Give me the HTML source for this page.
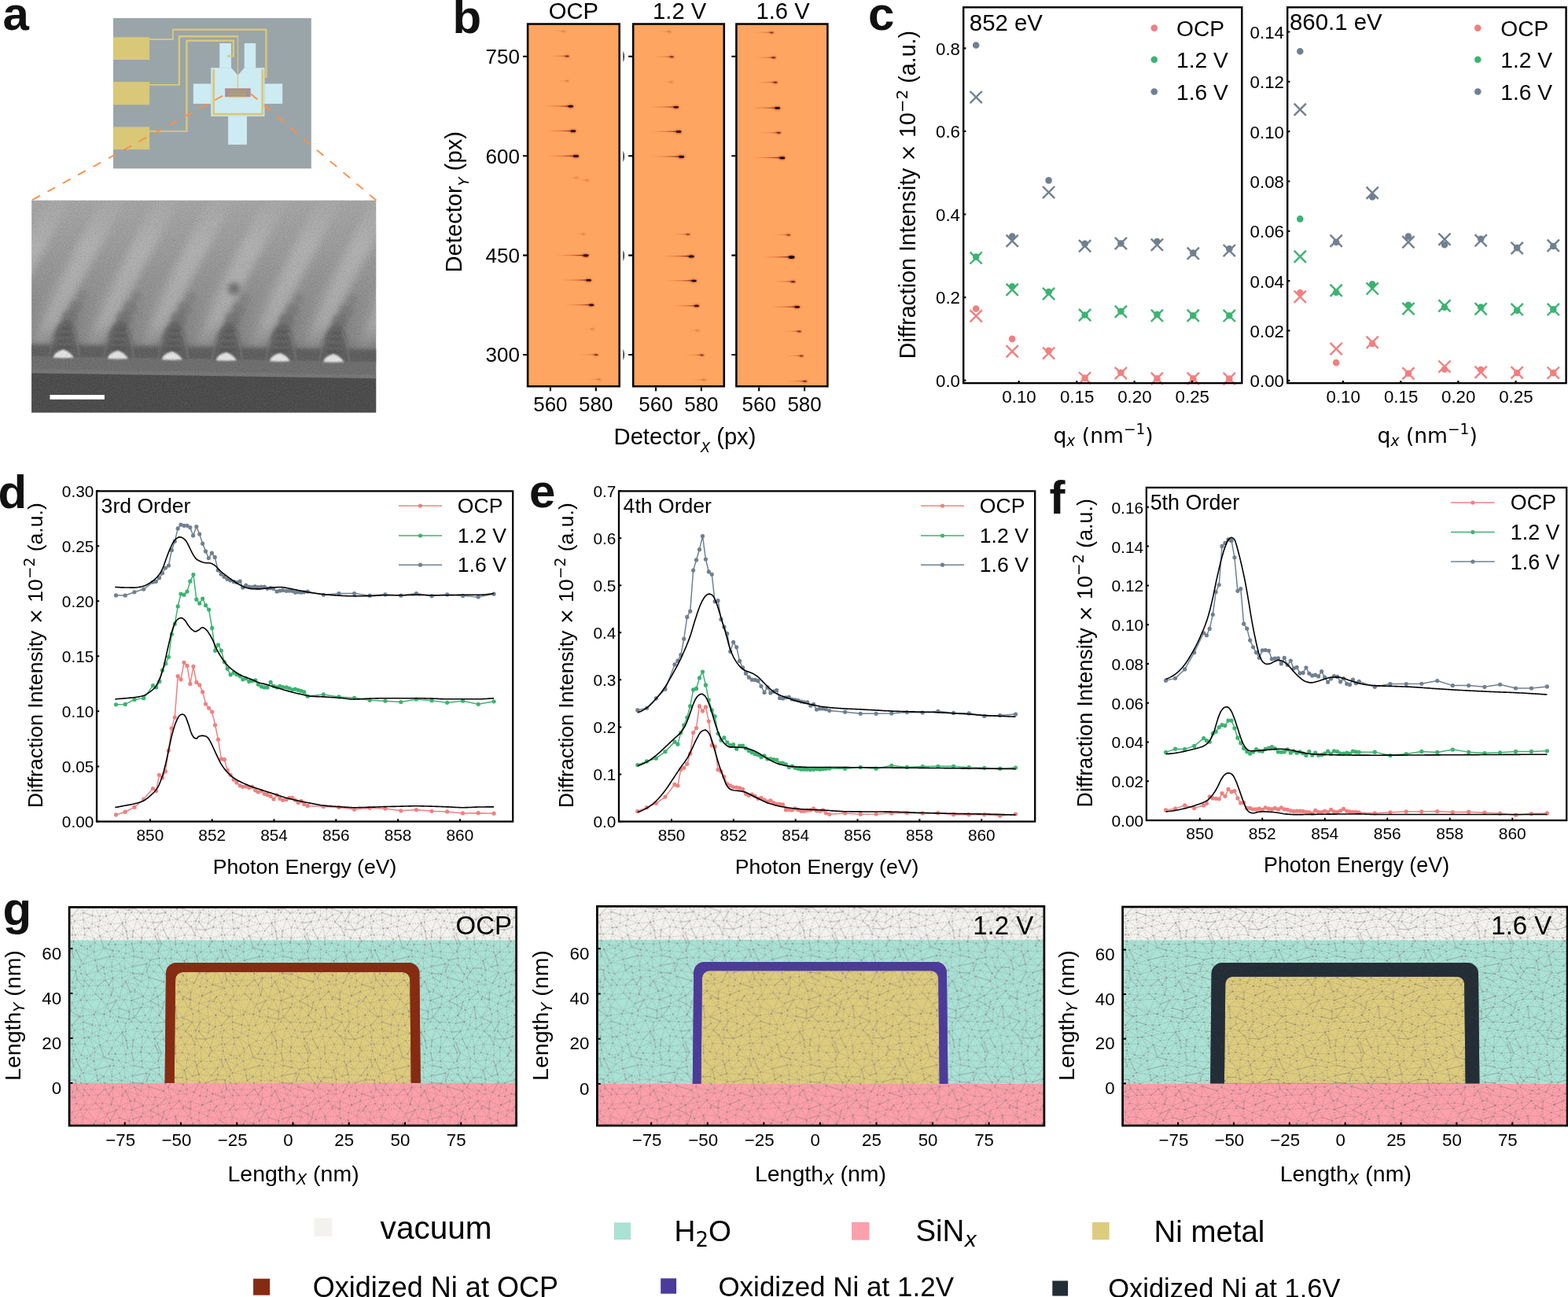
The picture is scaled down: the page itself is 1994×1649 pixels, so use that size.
<!DOCTYPE html>
<html lang="en"><head><meta charset="utf-8"><title>Figure</title>
<style>
html,body{margin:0;padding:0;background:#fff}
body{width:1994px;height:1649px;overflow:hidden}
svg{display:block;font-family:'Liberation Sans',sans-serif}
</style></head><body>
<svg width="1994" height="1649" viewBox="0 0 1994 1649">
<rect width="1994" height="1649" fill="#fff"/>
<g>
<path d="M1241.2,392.5h0M1287.2,430.9h0M1333.6,445.9h0M1379.6,480.6h0M1425.4,473.8h0M1471.4,481.2h0M1517.3,481.2h0M1563.3,481.5h0" stroke="#F08080" stroke-width="8.6" stroke-linecap="round" fill="none"/>
<path d="M1233.6,394.1l15.2,15.2M1233.6,409.3l15.2,-15.2M1279.6,439.1l15.2,15.2M1279.6,454.3l15.2,-15.2M1326,441.5l15.2,15.2M1326,456.7l15.2,-15.2M1372,473l15.2,15.2M1372,488.2l15.2,-15.2M1417.8,466.9l15.2,15.2M1417.8,482.1l15.2,-15.2M1463.8,473.6l15.2,15.2M1463.8,488.8l15.2,-15.2M1509.7,473.6l15.2,15.2M1509.7,488.8l15.2,-15.2M1555.7,473.9l15.2,15.2M1555.7,489.1l15.2,-15.2" stroke="#F08080" stroke-width="2.4" fill="none"/>
<path d="M1241.2,326.6h0M1287.2,364.3h0M1333.6,371.1h0M1379.6,400.5h0M1425.4,395.8h0M1471.4,399.9h0M1517.3,401.2h0M1563.3,401.2h0" stroke="#3CB371" stroke-width="8.6" stroke-linecap="round" fill="none"/>
<path d="M1233.6,320.3l15.2,15.2M1233.6,335.5l15.2,-15.2M1279.6,360.7l15.2,15.2M1279.6,375.9l15.2,-15.2M1326,365.9l15.2,15.2M1326,381.1l15.2,-15.2M1372,392.9l15.2,15.2M1372,408.1l15.2,-15.2M1417.8,388.6l15.2,15.2M1417.8,403.8l15.2,-15.2M1463.8,393.6l15.2,15.2M1463.8,408.8l15.2,-15.2M1509.7,393.6l15.2,15.2M1509.7,408.8l15.2,-15.2M1555.7,393.8l15.2,15.2M1555.7,409l15.2,-15.2" stroke="#3CB371" stroke-width="2.4" fill="none"/>
<path d="M1241.2,57.5h0M1287.2,300.6h0M1333.6,229.4h0M1379.6,309.9h0M1425.4,309.5h0M1471.4,307.1h0M1517.3,321.6h0M1563.3,316.4h0" stroke="#708090" stroke-width="8.6" stroke-linecap="round" fill="none"/>
<path d="M1233.6,116l15.2,15.2M1233.6,131.2l15.2,-15.2M1279.6,298.6l15.2,15.2M1279.6,313.8l15.2,-15.2M1326,237l15.2,15.2M1326,252.2l15.2,-15.2M1372,305.1l15.2,15.2M1372,320.3l15.2,-15.2M1417.8,301.9l15.2,15.2M1417.8,317.1l15.2,-15.2M1463.8,303.6l15.2,15.2M1463.8,318.8l15.2,-15.2M1509.7,314.7l15.2,15.2M1509.7,329.9l15.2,-15.2M1555.7,311l15.2,15.2M1555.7,326.2l15.2,-15.2" stroke="#708090" stroke-width="2.4" fill="none"/>
<rect x="1225.2" y="9.3" width="354.1" height="477.8" fill="none" stroke="#000" stroke-width="2.4"/>
<path d="M1295.7,487.1v-3.2M1369.3,487.1v-3.2M1442.6,487.1v-3.2M1516,487.1v-3.2M1225.2,483.6h3.2M1225.2,378.05h3.2M1225.2,272.5h3.2M1225.2,166.95h3.2M1225.2,61.4h3.2" stroke="#000" stroke-width="2.2" fill="none"/>
<text x="1296" y="512.3" font-size="22.3" text-anchor="middle">0.10</text>
<text x="1369.6" y="512.3" font-size="22.3" text-anchor="middle">0.15</text>
<text x="1442.9" y="512.3" font-size="22.3" text-anchor="middle">0.20</text>
<text x="1516.3" y="512.3" font-size="22.3" text-anchor="middle">0.25</text>
<text x="1221" y="491.98" font-size="22.3" text-anchor="end">0.0</text>
<text x="1221" y="386.43" font-size="22.3" text-anchor="end">0.2</text>
<text x="1221" y="280.88" font-size="22.3" text-anchor="end">0.4</text>
<text x="1221" y="175.33" font-size="22.3" text-anchor="end">0.6</text>
<text x="1221" y="69.78" font-size="22.3" text-anchor="end">0.8</text>
<text x="1232.8" y="38.8" font-size="29.4">852 eV</text>
<circle cx="1467.8" cy="35.6" r="4.3" fill="#F08080"/>
<text x="1496" y="45.6" font-size="28.2">OCP</text>
<circle cx="1467.8" cy="75.7" r="4.3" fill="#3CB371"/>
<text x="1496" y="85.7" font-size="28.2">1.2 V</text>
<circle cx="1467.8" cy="116.5" r="4.3" fill="#708090"/>
<text x="1496" y="126.5" font-size="28.2">1.6 V</text>
<text transform="translate(1164.4,247.6) rotate(-90)" font-size="28.6" text-anchor="middle">Diffraction Intensity <tspan font-family="'DejaVu Sans',sans-serif" font-size="27.17">×</tspan> 10<tspan font-family="'DejaVu Sans',sans-serif" font-size="20.02" dy="-10.87">−2</tspan><tspan dy="10.87"> (a.u.)</tspan></text>
<text x="1403.05" y="562.5" font-size="26.6" text-anchor="middle" font-family="'DejaVu Sans',sans-serif">q<tspan font-size="18.6" font-style="italic" dy="4.3">x</tspan><tspan dy="-4.3"> (nm</tspan><tspan font-size="18.6" dy="-10.4">−1</tspan><tspan dy="10.4">)</tspan></text>
</g>
<g>
<path d="M1653.3,372.1h0M1699.2,461.1h0M1745.2,437h0M1791,474.7h0M1837,469.5h0M1883.2,470h0M1929.2,474.1h0M1975.3,474.1h0" stroke="#F08080" stroke-width="8.6" stroke-linecap="round" fill="none"/>
<path d="M1645.7,369.7l15.2,15.2M1645.7,384.9l15.2,-15.2M1691.6,435.9l15.2,15.2M1691.6,451.1l15.2,-15.2M1737.6,427.6l15.2,15.2M1737.6,442.8l15.2,-15.2M1783.4,467.1l15.2,15.2M1783.4,482.3l15.2,-15.2M1829.4,458.5l15.2,15.2M1829.4,473.7l15.2,-15.2M1875.6,465.6l15.2,15.2M1875.6,480.8l15.2,-15.2M1921.6,466.2l15.2,15.2M1921.6,481.4l15.2,-15.2M1967.7,466.5l15.2,15.2M1967.7,481.7l15.2,-15.2" stroke="#F08080" stroke-width="2.4" fill="none"/>
<path d="M1653.3,278.4h0M1699.2,371.7h0M1745.2,361.3h0M1791,387.8h0M1837,390.6h0M1883.2,390.6h0M1929.2,394.7h0M1975.3,393.4h0" stroke="#3CB371" stroke-width="8.6" stroke-linecap="round" fill="none"/>
<path d="M1645.7,318.6l15.2,15.2M1645.7,333.8l15.2,-15.2M1691.6,361.7l15.2,15.2M1691.6,376.9l15.2,-15.2M1737.6,359.3l15.2,15.2M1737.6,374.5l15.2,-15.2M1783.4,384.9l15.2,15.2M1783.4,400.1l15.2,-15.2M1829.4,381.2l15.2,15.2M1829.4,396.4l15.2,-15.2M1875.6,385.2l15.2,15.2M1875.6,400.4l15.2,-15.2M1921.6,385.8l15.2,15.2M1921.6,401l15.2,-15.2M1967.7,385.8l15.2,15.2M1967.7,401l15.2,-15.2" stroke="#3CB371" stroke-width="2.4" fill="none"/>
<path d="M1653.3,65.3h0M1699.2,308h0M1745.2,250.5h0M1791,300.6h0M1837,311.2h0M1883.2,303.8h0M1929.2,315.1h0M1975.3,313h0" stroke="#708090" stroke-width="8.6" stroke-linecap="round" fill="none"/>
<path d="M1645.7,131.6l15.2,15.2M1645.7,146.8l15.2,-15.2M1691.6,298.6l15.2,15.2M1691.6,313.8l15.2,-15.2M1737.6,237.7l15.2,15.2M1737.6,252.9l15.2,-15.2M1783.4,300.1l15.2,15.2M1783.4,315.3l15.2,-15.2M1829.4,296.7l15.2,15.2M1829.4,311.9l15.2,-15.2M1875.6,298.2l15.2,15.2M1875.6,313.4l15.2,-15.2M1921.6,307.9l15.2,15.2M1921.6,323.1l15.2,-15.2M1967.7,304.7l15.2,15.2M1967.7,319.9l15.2,-15.2" stroke="#708090" stroke-width="2.4" fill="none"/>
<rect x="1637.2" y="9.3" width="354.4" height="477.8" fill="none" stroke="#000" stroke-width="2.4"/>
<path d="M1707.9,487.1v-3.2M1781.3,487.1v-3.2M1854.4,487.1v-3.2M1927.6,487.1v-3.2M1637.2,483.8h3.2M1637.2,420.47h3.2M1637.2,357.14h3.2M1637.2,293.81h3.2M1637.2,230.48h3.2M1637.2,167.15h3.2M1637.2,103.82h3.2M1637.2,40.49h3.2" stroke="#000" stroke-width="2.2" fill="none"/>
<text x="1708.2" y="512.3" font-size="22.3" text-anchor="middle">0.10</text>
<text x="1781.6" y="512.3" font-size="22.3" text-anchor="middle">0.15</text>
<text x="1854.7" y="512.3" font-size="22.3" text-anchor="middle">0.20</text>
<text x="1927.9" y="512.3" font-size="22.3" text-anchor="middle">0.25</text>
<text x="1633" y="492.18" font-size="22.3" text-anchor="end">0.00</text>
<text x="1633" y="428.85" font-size="22.3" text-anchor="end">0.02</text>
<text x="1633" y="365.52" font-size="22.3" text-anchor="end">0.04</text>
<text x="1633" y="302.19" font-size="22.3" text-anchor="end">0.06</text>
<text x="1633" y="238.86" font-size="22.3" text-anchor="end">0.08</text>
<text x="1633" y="175.53" font-size="22.3" text-anchor="end">0.10</text>
<text x="1633" y="112.2" font-size="22.3" text-anchor="end">0.12</text>
<text x="1633" y="48.87" font-size="22.3" text-anchor="end">0.14</text>
<text x="1640" y="38.4" font-size="29.4">860.1 eV</text>
<circle cx="1879.3" cy="35.6" r="4.3" fill="#F08080"/>
<text x="1908.3" y="45.6" font-size="28.2">OCP</text>
<circle cx="1879.3" cy="75.7" r="4.3" fill="#3CB371"/>
<text x="1908.3" y="85.7" font-size="28.2">1.2 V</text>
<circle cx="1879.3" cy="116.5" r="4.3" fill="#708090"/>
<text x="1908.3" y="126.5" font-size="28.2">1.6 V</text>
<text x="1815.2" y="562.5" font-size="26.6" text-anchor="middle" font-family="'DejaVu Sans',sans-serif">q<tspan font-size="18.6" font-style="italic" dy="4.3">x</tspan><tspan dy="-4.3"> (nm</tspan><tspan font-size="18.6" dy="-10.4">−1</tspan><tspan dy="10.4">)</tspan></text>
</g>
<g>
<polyline points="147.52,1035.97 159.26,1032.21 170.99,1026.19 182.73,1016.11 194.46,1002.57 198.67,1005.58 202.43,985.27 206.5,988.73 210.41,980.75 214.32,954.13 218.23,925.84 222.29,912 226.2,859.65 229.97,863.86 234.03,842.35 237.94,846.41 241.85,869.43 245.91,847.31 249.82,867.47 253.74,870.93 257.65,879.66 261.56,895 265.62,900.27 269.68,905.08 273.59,921.78 277.51,940.13 281.42,964.96 285.33,965.71 289.24,979.25 293.15,985.27 297.21,991.28 300.97,995.05 305.19,998.81 308.8,1000.31 312.71,999.86 316.77,1001.36 320.53,1000.31 324.74,1004.82 328.36,1007.08 332.57,1005.58 336.33,1009.34 340.09,1010.39 344.15,1012.35 348.06,1016.11 352.13,1010.84 355.89,1015.36 359.65,1017.31 364.16,1016.41 367.92,1014.3 371.68,1014.3 375.44,1017.31 379.21,1020.62 382.97,1018.36 386.73,1022.43 391.24,1024.38 411.35,1025.62 430.99,1026.49 450.63,1029.11 470.27,1027.37 489.92,1028.02 509.78,1030.86 529.42,1029.55 549.06,1031.3 568.7,1031.95 588.56,1033.92 608.21,1033.7 628.07,1034.13" fill="none" stroke="#F08080" stroke-width="1.5" stroke-linejoin="round"/><path d="M147.52,1035.97h0M159.26,1032.21h0M170.99,1026.19h0M182.73,1016.11h0M194.46,1002.57h0M198.67,1005.58h0M202.43,985.27h0M206.5,988.73h0M210.41,980.75h0M214.32,954.13h0M218.23,925.84h0M222.29,912h0M226.2,859.65h0M229.97,863.86h0M234.03,842.35h0M237.94,846.41h0M241.85,869.43h0M245.91,847.31h0M249.82,867.47h0M253.74,870.93h0M257.65,879.66h0M261.56,895h0M265.62,900.27h0M269.68,905.08h0M273.59,921.78h0M277.51,940.13h0M281.42,964.96h0M285.33,965.71h0M289.24,979.25h0M293.15,985.27h0M297.21,991.28h0M300.97,995.05h0M305.19,998.81h0M308.8,1000.31h0M312.71,999.86h0M316.77,1001.36h0M320.53,1000.31h0M324.74,1004.82h0M328.36,1007.08h0M332.57,1005.58h0M336.33,1009.34h0M340.09,1010.39h0M344.15,1012.35h0M348.06,1016.11h0M352.13,1010.84h0M355.89,1015.36h0M359.65,1017.31h0M364.16,1016.41h0M367.92,1014.3h0M371.68,1014.3h0M375.44,1017.31h0M379.21,1020.62h0M382.97,1018.36h0M386.73,1022.43h0M391.24,1024.38h0M411.35,1025.62h0M430.99,1026.49h0M450.63,1029.11h0M470.27,1027.37h0M489.92,1028.02h0M509.78,1030.86h0M529.42,1029.55h0M549.06,1031.3h0M568.7,1031.95h0M588.56,1033.92h0M608.21,1033.7h0M628.07,1034.13h0" stroke="#F08080" stroke-width="5.2" stroke-linecap="round" fill="none"/>
<polyline points="147.52,895.75 159.26,895.45 170.99,889.43 182.73,887.63 194.46,871.68 198.67,873.94 202.89,866.42 206.5,852.13 210.71,843.85 214.47,835.28 218.38,806.24 222.29,793.15 226.2,770.89 229.97,755.09 234.03,756.14 237.94,752.08 241.85,738.99 245.91,730.57 249.82,762.16 253.74,767.13 257.65,761.11 261.56,769.68 265.62,775.1 269.68,798.42 273.59,827.3 277.51,819.78 281.42,827 285.33,841.59 289.24,850.32 293.15,857.84 297.21,855.13 300.97,857.39 305.19,859.65 308.8,863.86 312.71,862.66 316.77,866.42 320.53,865.67 324.74,864.91 328.36,870.18 332.57,872.89 336.33,873.94 340.09,873.94 344.15,867.47 348.06,872.44 352.13,873.94 355.89,872.44 359.65,873.49 364.16,873.94 367.92,874.99 371.68,876.95 375.44,876.2 379.21,877.4 382.97,878.45 386.73,879.96 391.24,885.22 411.35,882.89 430.99,885.95 450.63,887.25 470.27,890.31 489.92,891.18 509.78,892.49 529.42,889 549.06,890.75 568.7,893.37 588.56,891.18 608.21,895.33 628.07,891.84" fill="none" stroke="#3CB371" stroke-width="1.5" stroke-linejoin="round"/><path d="M147.52,895.75h0M159.26,895.45h0M170.99,889.43h0M182.73,887.63h0M194.46,871.68h0M198.67,873.94h0M202.89,866.42h0M206.5,852.13h0M210.71,843.85h0M214.47,835.28h0M218.38,806.24h0M222.29,793.15h0M226.2,770.89h0M229.97,755.09h0M234.03,756.14h0M237.94,752.08h0M241.85,738.99h0M245.91,730.57h0M249.82,762.16h0M253.74,767.13h0M257.65,761.11h0M261.56,769.68h0M265.62,775.1h0M269.68,798.42h0M273.59,827.3h0M277.51,819.78h0M281.42,827h0M285.33,841.59h0M289.24,850.32h0M293.15,857.84h0M297.21,855.13h0M300.97,857.39h0M305.19,859.65h0M308.8,863.86h0M312.71,862.66h0M316.77,866.42h0M320.53,865.67h0M324.74,864.91h0M328.36,870.18h0M332.57,872.89h0M336.33,873.94h0M340.09,873.94h0M344.15,867.47h0M348.06,872.44h0M352.13,873.94h0M355.89,872.44h0M359.65,873.49h0M364.16,873.94h0M367.92,874.99h0M371.68,876.95h0M375.44,876.2h0M379.21,877.4h0M382.97,878.45h0M386.73,879.96h0M391.24,885.22h0M411.35,882.89h0M430.99,885.95h0M450.63,887.25h0M470.27,890.31h0M489.92,891.18h0M509.78,892.49h0M529.42,889h0M549.06,890.75h0M568.7,893.37h0M588.56,891.18h0M608.21,895.33h0M628.07,891.84h0" stroke="#3CB371" stroke-width="5.2" stroke-linecap="round" fill="none"/>
<polyline points="147.52,756.89 159.26,757.05 170.99,752.83 182.73,749.07 194.46,740.05 198.37,739.29 202.43,734.78 206.5,728.76 210.41,721.99 214.47,718.98 218.38,699.43 222.29,688.14 226.2,671.89 229.97,667.08 234.03,668.28 237.94,668.28 241.85,670.54 245.61,680.92 249.82,669.49 253.74,679.12 257.65,691.15 261.56,700.93 265.32,709.51 269.38,703.19 273.29,708.45 277.2,725 281.12,729.97 285.03,733.28 288.94,736.28 292.85,737.79 297.21,739.59 300.97,740.5 305.19,738.99 308.8,747.12 312.71,744.11 316.77,746.06 320.53,746.51 324.29,745.61 328.05,746.51 332.27,746.06 336.33,746.06 340.09,748.32 343.85,747.57 347.61,748.32 352.13,752.08 355.89,751.03 359.65,750.58 364.16,751.33 367.92,751.03 371.68,751.33 375.44,753.13 379.21,752.83 382.97,753.13 386.73,752.83 391.24,752.08 411.35,756.31 430.99,754.56 450.63,754.56 470.27,757.18 489.92,755.87 509.78,757.18 529.42,754.56 549.06,757.84 568.7,755.87 588.56,757.62 608.21,758.93 628.07,755.22" fill="none" stroke="#708090" stroke-width="1.5" stroke-linejoin="round"/><path d="M147.52,756.89h0M159.26,757.05h0M170.99,752.83h0M182.73,749.07h0M194.46,740.05h0M198.37,739.29h0M202.43,734.78h0M206.5,728.76h0M210.41,721.99h0M214.47,718.98h0M218.38,699.43h0M222.29,688.14h0M226.2,671.89h0M229.97,667.08h0M234.03,668.28h0M237.94,668.28h0M241.85,670.54h0M245.61,680.92h0M249.82,669.49h0M253.74,679.12h0M257.65,691.15h0M261.56,700.93h0M265.32,709.51h0M269.38,703.19h0M273.29,708.45h0M277.2,725h0M281.12,729.97h0M285.03,733.28h0M288.94,736.28h0M292.85,737.79h0M297.21,739.59h0M300.97,740.5h0M305.19,738.99h0M308.8,747.12h0M312.71,744.11h0M316.77,746.06h0M320.53,746.51h0M324.29,745.61h0M328.05,746.51h0M332.27,746.06h0M336.33,746.06h0M340.09,748.32h0M343.85,747.57h0M347.61,748.32h0M352.13,752.08h0M355.89,751.03h0M359.65,750.58h0M364.16,751.33h0M367.92,751.03h0M371.68,751.33h0M375.44,753.13h0M379.21,752.83h0M382.97,753.13h0M386.73,752.83h0M391.24,752.08h0M411.35,756.31h0M430.99,754.56h0M450.63,754.56h0M470.27,757.18h0M489.92,755.87h0M509.78,757.18h0M529.42,754.56h0M549.06,757.84h0M568.7,755.87h0M588.56,757.62h0M608.21,758.93h0M628.07,755.22h0" stroke="#708090" stroke-width="5.2" stroke-linecap="round" fill="none"/>
<polyline points="146.32,1026.64 148.32,1026.25 150.32,1025.86 152.32,1025.48 154.32,1025.09 156.32,1024.71 158.32,1024.33 160.32,1023.97 162.32,1023.62 164.32,1023.28 166.32,1022.91 168.32,1022.52 170.32,1022.07 172.32,1021.59 174.32,1021.08 176.32,1020.51 178.32,1019.86 180.32,1019.13 182.32,1018.28 184.32,1017.15 186.32,1015.72 188.32,1014.08 190.32,1012.33 192.32,1010.56 194.32,1008.75 196.32,1006.74 198.32,1004.41 200.32,1001.6 202.32,997.75 204.32,992.8 206.32,987.16 208.32,980.42 210.32,972.57 212.32,963.77 214.32,954.11 216.32,944.9 218.32,935.92 220.32,928.31 222.32,921.81 224.32,916.66 226.32,912.54 228.32,909.64 230.32,908.43 232.32,908.14 234.32,909 236.32,911.66 238.32,917.1 240.32,922.86 242.32,929.48 244.32,934.36 246.32,937.46 248.32,938.72 250.32,938.88 252.32,936.41 254.32,935.68 256.32,935.36 258.32,935.36 260.32,935.68 262.32,936.26 264.32,938.1 266.32,940.81 268.32,944.36 270.32,948.71 272.32,952.98 274.32,957.38 276.32,961.63 278.32,965.87 280.32,969.82 282.32,973.16 284.32,976.07 286.32,978.67 288.32,981 290.32,983.11 292.32,985.02 294.32,986.75 296.32,988.34 298.32,989.77 300.32,991.06 302.32,992.2 304.32,993.25 306.32,994.25 308.32,995.21 310.32,996.13 312.32,997.01 314.32,997.86 316.32,998.68 318.32,999.48 320.32,1000.23 322.32,1000.94 324.32,1001.61 326.32,1002.26 328.32,1002.91 330.32,1003.57 332.32,1004.25 334.32,1004.92 336.32,1005.59 338.32,1006.24 340.32,1006.88 342.32,1007.51 344.32,1008.13 346.32,1008.75 348.32,1009.37 350.32,1009.99 352.32,1010.64 354.32,1011.3 356.32,1011.97 358.32,1012.65 360.32,1013.3 362.32,1013.94 364.32,1014.53 366.32,1015.08 368.32,1015.59 370.32,1016.07 372.32,1016.54 374.32,1016.99 376.32,1017.42 378.32,1017.85 380.32,1018.28 382.32,1018.71 384.32,1019.12 386.32,1019.53 388.32,1019.94 390.32,1020.33 392.32,1020.72 394.32,1021.1 396.32,1021.48 398.32,1021.87 400.32,1022.26 402.32,1022.65 404.32,1023.03 406.32,1023.38 408.32,1023.7 410.32,1023.97 412.32,1024.2 414.32,1024.4 416.32,1024.58 418.32,1024.75 420.32,1024.9 422.32,1025.05 424.32,1025.19 426.32,1025.32 428.32,1025.45 430.32,1025.58 432.32,1025.71 434.32,1025.85 436.32,1026 438.32,1026.15 440.32,1026.29 442.32,1026.42 444.32,1026.54 446.32,1026.63 448.32,1026.69 450.32,1026.71 452.32,1026.71 454.32,1026.69 456.32,1026.66 458.32,1026.61 460.32,1026.56 462.32,1026.51 464.32,1026.45 466.32,1026.39 468.32,1026.33 470.32,1026.28 472.32,1026.22 474.32,1026.15 476.32,1026.09 478.32,1026.01 480.32,1025.94 482.32,1025.87 484.32,1025.8 486.32,1025.73 488.32,1025.67 490.32,1025.61 492.32,1025.56 494.32,1025.51 496.32,1025.47 498.32,1025.42 500.32,1025.38 502.32,1025.34 504.32,1025.3 506.32,1025.26 508.32,1025.22 510.32,1025.17 512.32,1025.12 514.32,1025.07 516.32,1025.01 518.32,1024.95 520.32,1024.89 522.32,1024.84 524.32,1024.8 526.32,1024.77 528.32,1024.75 530.32,1024.75 532.32,1024.77 534.32,1024.79 536.32,1024.83 538.32,1024.88 540.32,1024.93 542.32,1024.99 544.32,1025.05 546.32,1025.11 548.32,1025.17 550.32,1025.22 552.32,1025.28 554.32,1025.34 556.32,1025.4 558.32,1025.47 560.32,1025.53 562.32,1025.6 564.32,1025.68 566.32,1025.75 568.32,1025.83 570.32,1025.91 572.32,1026.01 574.32,1026.12 576.32,1026.24 578.32,1026.35 580.32,1026.46 582.32,1026.56 584.32,1026.64 586.32,1026.69 588.32,1026.71 590.32,1026.7 592.32,1026.66 594.32,1026.6 596.32,1026.52 598.32,1026.43 600.32,1026.34 602.32,1026.25 604.32,1026.17 606.32,1026.1 608.32,1026.06 610.32,1026.02 612.32,1025.99 614.32,1025.96 616.32,1025.93 618.32,1025.91 620.32,1025.88 622.32,1025.86 624.32,1025.85 626.32,1025.84 628.07,1025.84" fill="none" stroke="#000" stroke-width="1.6" stroke-linejoin="round"/>
<polyline points="146.32,888.83 148.32,888.7 150.32,888.55 152.32,888.4 154.32,888.24 156.32,888.08 158.32,887.91 160.32,887.73 162.32,887.55 164.32,887.36 166.32,887.16 168.32,886.94 170.32,886.7 172.32,886.44 174.32,886.17 176.32,885.87 178.32,885.51 180.32,885.08 182.32,884.56 184.32,883.76 186.32,882.62 188.32,881.26 190.32,879.81 192.32,878.36 194.32,876.79 196.32,874.9 198.32,872.38 200.32,868.88 202.32,864.65 204.32,859.8 206.32,853.82 208.32,846.8 210.32,838.13 212.32,829.1 214.32,820.14 216.32,811.58 218.32,804 220.32,797.31 222.32,792.62 224.32,789 226.32,787.05 228.32,785.93 230.32,785.48 232.32,786.21 234.32,787.79 236.32,790.13 238.32,793.5 240.32,796.31 242.32,798.79 244.32,800.64 246.32,802.2 248.32,802.93 250.32,802.39 252.32,801.27 254.32,799.77 256.32,798 258.32,797.84 260.32,799 262.32,800.63 264.32,803.1 266.32,806.16 268.32,809.52 270.32,813.36 272.32,817.77 274.32,822.67 276.32,826.85 278.32,830.51 280.32,833.85 282.32,836.95 284.32,839.85 286.32,842.51 288.32,844.85 290.32,846.96 292.32,848.87 294.32,850.59 296.32,852.15 298.32,853.59 300.32,854.96 302.32,856.3 304.32,857.52 306.32,858.54 308.32,859.38 310.32,860.13 312.32,860.88 314.32,861.67 316.32,862.47 318.32,863.27 320.32,864.07 322.32,864.92 324.32,865.82 326.32,866.7 328.32,867.5 330.32,868.15 332.32,868.68 334.32,869.15 336.32,869.61 338.32,870.11 340.32,870.68 342.32,871.29 344.32,871.92 346.32,872.57 348.32,873.22 350.32,873.85 352.32,874.46 354.32,875.08 356.32,875.7 358.32,876.31 360.32,876.92 362.32,877.51 364.32,878.08 366.32,878.63 368.32,879.17 370.32,879.69 372.32,880.21 374.32,880.71 376.32,881.2 378.32,881.67 380.32,882.13 382.32,882.58 384.32,883.06 386.32,883.55 388.32,884.01 390.32,884.44 392.32,884.8 394.32,885.09 396.32,885.26 398.32,885.39 400.32,885.49 402.32,885.58 404.32,885.65 406.32,885.73 408.32,885.8 410.32,885.89 412.32,886 414.32,886.11 416.32,886.23 418.32,886.36 420.32,886.49 422.32,886.62 424.32,886.76 426.32,886.91 428.32,887.05 430.32,887.2 432.32,887.37 434.32,887.56 436.32,887.79 438.32,888.02 440.32,888.26 442.32,888.48 444.32,888.68 446.32,888.84 448.32,888.95 450.32,889 452.32,888.99 454.32,888.94 456.32,888.86 458.32,888.76 460.32,888.64 462.32,888.52 464.32,888.41 466.32,888.29 468.32,888.2 470.32,888.13 472.32,888.07 474.32,888 476.32,887.94 478.32,887.88 480.32,887.83 482.32,887.78 484.32,887.74 486.32,887.71 488.32,887.7 490.32,887.69 492.32,887.69 494.32,887.69 496.32,887.69 498.32,887.69 500.32,887.69 502.32,887.69 504.32,887.69 506.32,887.69 508.32,887.69 510.32,887.69 512.32,887.69 514.32,887.69 516.32,887.69 518.32,887.69 520.32,887.69 522.32,887.69 524.32,887.69 526.32,887.69 528.32,887.69 530.32,887.69 532.32,887.71 534.32,887.73 536.32,887.77 538.32,887.82 540.32,887.87 542.32,887.93 544.32,887.99 546.32,888.05 548.32,888.11 550.32,888.16 552.32,888.24 554.32,888.32 556.32,888.41 558.32,888.5 560.32,888.58 562.32,888.66 564.32,888.72 566.32,888.76 568.32,888.78 570.32,888.78 572.32,888.78 574.32,888.78 576.32,888.78 578.32,888.78 580.32,888.78 582.32,888.78 584.32,888.78 586.32,888.78 588.32,888.78 590.32,888.78 592.32,888.78 594.32,888.78 596.32,888.78 598.32,888.78 600.32,888.78 602.32,888.78 604.32,888.78 606.32,888.78 608.32,888.78 610.32,888.76 612.32,888.72 614.32,888.64 616.32,888.55 618.32,888.43 620.32,888.3 622.32,888.15 624.32,888 626.32,887.83 628.07,887.69" fill="none" stroke="#000" stroke-width="1.6" stroke-linejoin="round"/>
<polyline points="146.32,746.36 148.32,746.5 150.32,746.63 152.32,746.75 154.32,746.84 156.32,746.92 158.32,746.97 160.32,747.01 162.32,747.04 164.32,747.07 166.32,747.1 168.32,747.11 170.32,747.12 172.32,747.03 174.32,746.83 176.32,746.53 178.32,746.16 180.32,745.73 182.32,745.26 184.32,744.59 186.32,743.66 188.32,742.54 190.32,741.32 192.32,740.04 194.32,738.62 196.32,737.02 198.32,735.19 200.32,733.12 202.32,730.64 204.32,727.62 206.32,724 208.32,719.02 210.32,713.28 212.32,707.78 214.32,702.38 216.32,697.65 218.32,693.23 220.32,689.49 222.32,686.76 224.32,684.6 226.32,683.38 228.32,682.75 230.32,683.03 232.32,683.9 234.32,685.36 236.32,687.43 238.32,690.66 240.32,694.72 242.32,698.77 244.32,702.91 246.32,706.36 248.32,709.4 250.32,711.37 252.32,712.52 254.32,713.41 256.32,714.29 258.32,715.08 260.32,715.52 262.32,715.64 264.32,715.7 266.32,715.82 268.32,716.25 270.32,717.1 272.32,718.19 274.32,719.81 276.32,722.02 278.32,724.16 280.32,726 282.32,727.76 284.32,729.43 286.32,730.99 288.32,732.48 290.32,733.94 292.32,735.39 294.32,736.81 296.32,738.2 298.32,739.52 300.32,740.8 302.32,742.04 304.32,743.19 306.32,744.23 308.32,745.24 310.32,746.16 312.32,746.91 314.32,747.47 316.32,747.97 318.32,748.37 320.32,748.61 322.32,748.72 324.32,748.81 326.32,748.88 328.32,748.91 330.32,748.91 332.32,748.79 334.32,748.57 336.32,748.31 338.32,748.05 340.32,747.79 342.32,747.47 344.32,747.16 346.32,746.91 348.32,746.78 350.32,746.68 352.32,746.6 354.32,746.54 356.32,746.51 358.32,746.58 360.32,746.81 362.32,747.13 364.32,747.49 366.32,747.83 368.32,748.2 370.32,748.6 372.32,749.03 374.32,749.45 376.32,749.85 378.32,750.25 380.32,750.66 382.32,751.05 384.32,751.45 386.32,751.84 388.32,752.24 390.32,752.63 392.32,753 394.32,753.35 396.32,753.67 398.32,753.98 400.32,754.28 402.32,754.56 404.32,754.83 406.32,755.09 408.32,755.33 410.32,755.55 412.32,755.75 414.32,755.94 416.32,756.13 418.32,756.31 420.32,756.48 422.32,756.64 424.32,756.78 426.32,756.92 428.32,757.04 430.32,757.15 432.32,757.24 434.32,757.34 436.32,757.43 438.32,757.52 440.32,757.6 442.32,757.68 444.32,757.74 446.32,757.79 448.32,757.82 450.32,757.83 452.32,757.83 454.32,757.82 456.32,757.81 458.32,757.79 460.32,757.77 462.32,757.75 464.32,757.72 466.32,757.68 468.32,757.65 470.32,757.62 472.32,757.56 474.32,757.48 476.32,757.37 478.32,757.25 480.32,757.12 482.32,757 484.32,756.9 486.32,756.81 488.32,756.76 490.32,756.74 492.32,756.74 494.32,756.74 496.32,756.74 498.32,756.74 500.32,756.74 502.32,756.74 504.32,756.74 506.32,756.74 508.32,756.74 510.32,756.74 512.32,756.72 514.32,756.68 516.32,756.63 518.32,756.57 520.32,756.5 522.32,756.44 524.32,756.38 526.32,756.34 528.32,756.31 530.32,756.31 532.32,756.33 534.32,756.38 536.32,756.43 538.32,756.49 540.32,756.56 542.32,756.62 544.32,756.68 546.32,756.72 548.32,756.74 550.32,756.74 552.32,756.74 554.32,756.74 556.32,756.74 558.32,756.74 560.32,756.74 562.32,756.74 564.32,756.74 566.32,756.74 568.32,756.74 570.32,756.74 572.32,756.71 574.32,756.66 576.32,756.6 578.32,756.54 580.32,756.47 582.32,756.41 584.32,756.36 586.32,756.32 588.32,756.31 590.32,756.31 592.32,756.31 594.32,756.31 596.32,756.31 598.32,756.31 600.32,756.31 602.32,756.31 604.32,756.31 606.32,756.31 608.32,756.31 610.32,756.28 612.32,756.2 614.32,756.08 616.32,755.93 618.32,755.74 620.32,755.53 622.32,755.3 624.32,755.05 626.32,754.79 628.07,754.56" fill="none" stroke="#000" stroke-width="1.6" stroke-linejoin="round"/>
<rect x="123" y="624.4" width="529.2" height="420.1" fill="none" stroke="#000" stroke-width="2.3"/>
<path d="M190.9,1044.5v-3.2M269.7,1044.5v-3.2M348.5,1044.5v-3.2M427.3,1044.5v-3.2M506.1,1044.5v-3.2M584.9,1044.5v-3.2M123,1044.5h3.2M123,974.43h3.2M123,904.36h3.2M123,834.29h3.2M123,764.22h3.2M123,694.15h3.2M123,624.08h3.2" stroke="#000" stroke-width="2" fill="none"/>
<text x="190.9" y="1068.5" font-size="20.8" text-anchor="middle">850</text>
<text x="269.7" y="1068.5" font-size="20.8" text-anchor="middle">852</text>
<text x="348.5" y="1068.5" font-size="20.8" text-anchor="middle">854</text>
<text x="427.3" y="1068.5" font-size="20.8" text-anchor="middle">856</text>
<text x="506.1" y="1068.5" font-size="20.8" text-anchor="middle">858</text>
<text x="584.9" y="1068.5" font-size="20.8" text-anchor="middle">860</text>
<text x="119.3" y="1052.35" font-size="20.8" text-anchor="end">0.00</text>
<text x="119.3" y="982.28" font-size="20.8" text-anchor="end">0.05</text>
<text x="119.3" y="912.21" font-size="20.8" text-anchor="end">0.10</text>
<text x="119.3" y="842.14" font-size="20.8" text-anchor="end">0.15</text>
<text x="119.3" y="772.07" font-size="20.8" text-anchor="end">0.20</text>
<text x="119.3" y="702" font-size="20.8" text-anchor="end">0.25</text>
<text x="119.3" y="631.93" font-size="20.8" text-anchor="end">0.30</text>
<text x="128.6" y="651.7" font-size="26.6">3rd Order</text>
<line x1="507" y1="643" x2="562" y2="643" stroke="#F08080" stroke-width="1.5"/><circle cx="534.5" cy="643" r="2.6" fill="#F08080"/><text x="581.8" y="652.3" font-size="26.6">OCP</text>
<line x1="507" y1="681" x2="562" y2="681" stroke="#3CB371" stroke-width="1.5"/><circle cx="534.5" cy="681" r="2.6" fill="#3CB371"/><text x="581.8" y="689.6" font-size="26.6">1.2 V</text>
<line x1="507" y1="718.2" x2="562" y2="718.2" stroke="#708090" stroke-width="1.5"/><circle cx="534.5" cy="718.2" r="2.6" fill="#708090"/><text x="581.8" y="727.4" font-size="26.6">1.6 V</text>
<text transform="translate(53.9,833.25) rotate(-90)" font-size="26.6" text-anchor="middle">Diffraction Intensity <tspan font-family="'DejaVu Sans',sans-serif" font-size="25.27">×</tspan> 10<tspan font-family="'DejaVu Sans',sans-serif" font-size="18.62" dy="-10.11">−2</tspan><tspan dy="10.11"> (a.u.)</tspan></text>
<text x="387.6" y="1110.8" font-size="26.6" text-anchor="middle">Photon Energy (eV)</text>
</g>
<g>
<polyline points="810.76,1031.45 822.5,1026.64 834.38,1021.37 845.97,1013.1 858,997.3 861.91,998.81 865.82,978.2 869.74,976.24 873.8,971.28 877.71,958.19 881.62,931.56 885.53,925.54 889.44,897.71 893.51,904.03 897.42,898.76 901.33,917.12 905.24,947.66 909.15,949.16 913.06,978.5 916.97,980.75 920.89,987.52 924.8,996.55 928.71,998.81 932.62,1000.76 936.68,1001.06 940.59,1001.82 944.51,1003.32 948.42,1009.34 952.33,1011.29 956.24,1010.09 960.15,1012.35 964.06,1015.36 967.98,1014.3 972.04,1016.86 975.95,1019.12 979.86,1017.91 983.77,1020.62 987.68,1022.43 991.59,1022.43 995.51,1022.88 999.42,1029.65 1003.33,1029.35 1007.24,1029.95 1011.15,1027.84 1015.06,1029.65 1018.98,1031.15 1022.89,1031.15 1026.8,1030.4 1030.71,1029.95 1034.62,1028.14 1038.53,1030.85 1042.75,1031.15 1046.51,1029.95 1050.27,1033.86 1054.78,1035.36 1074.62,1033.92 1094.26,1035.22 1114.12,1035.01 1133.77,1033.92 1153.41,1033.48 1173.27,1033.92 1192.91,1033.48 1212.55,1035.66 1232.2,1035.66 1251.84,1035.66 1271.7,1037.19 1291.56,1035.01" fill="none" stroke="#F08080" stroke-width="1.5" stroke-linejoin="round"/><path d="M810.76,1031.45h0M822.5,1026.64h0M834.38,1021.37h0M845.97,1013.1h0M858,997.3h0M861.91,998.81h0M865.82,978.2h0M869.74,976.24h0M873.8,971.28h0M877.71,958.19h0M881.62,931.56h0M885.53,925.54h0M889.44,897.71h0M893.51,904.03h0M897.42,898.76h0M901.33,917.12h0M905.24,947.66h0M909.15,949.16h0M913.06,978.5h0M916.97,980.75h0M920.89,987.52h0M924.8,996.55h0M928.71,998.81h0M932.62,1000.76h0M936.68,1001.06h0M940.59,1001.82h0M944.51,1003.32h0M948.42,1009.34h0M952.33,1011.29h0M956.24,1010.09h0M960.15,1012.35h0M964.06,1015.36h0M967.98,1014.3h0M972.04,1016.86h0M975.95,1019.12h0M979.86,1017.91h0M983.77,1020.62h0M987.68,1022.43h0M991.59,1022.43h0M995.51,1022.88h0M999.42,1029.65h0M1003.33,1029.35h0M1007.24,1029.95h0M1011.15,1027.84h0M1015.06,1029.65h0M1018.98,1031.15h0M1022.89,1031.15h0M1026.8,1030.4h0M1030.71,1029.95h0M1034.62,1028.14h0M1038.53,1030.85h0M1042.75,1031.15h0M1046.51,1029.95h0M1050.27,1033.86h0M1054.78,1035.36h0M1074.62,1033.92h0M1094.26,1035.22h0M1114.12,1035.01h0M1133.77,1033.92h0M1153.41,1033.48h0M1173.27,1033.92h0M1192.91,1033.48h0M1212.55,1035.66h0M1232.2,1035.66h0M1251.84,1035.66h0M1271.7,1037.19h0M1291.56,1035.01h0" stroke="#F08080" stroke-width="5.2" stroke-linecap="round" fill="none"/>
<polyline points="810.76,972.48 822.5,967.97 834.38,964.2 845.97,955.63 858,943.14 861.91,946.15 865.82,931.56 869.74,922.08 873.8,912.3 877.71,897.71 881.62,876.95 885.53,875.44 889.44,861.9 893.51,854.08 897.42,870.93 901.33,889.74 905.24,902.97 909.15,910.8 913.06,932.61 916.97,941.19 920.89,937.88 924.8,943.89 928.71,947.66 932.62,946.6 936.68,952.17 940.59,948.11 944.51,948.11 948.42,951.42 952.33,954.43 956.24,956.68 960.15,958.64 964.06,959.69 967.98,962.7 972.04,960.74 975.95,964.96 979.86,964.96 983.77,965.71 987.68,966.16 991.59,970.22 995.51,970.22 999.42,971.73 1003.33,975.49 1007.24,973.98 1011.15,976.24 1015.06,977.29 1018.98,978.2 1022.89,978.2 1026.8,978.2 1030.71,978.5 1034.62,978.2 1038.53,977.74 1042.75,978.2 1046.51,977.74 1050.27,977.29 1054.78,976.99 1074.62,977.17 1094.26,975.43 1114.12,977.17 1133.77,973.24 1153.41,975.43 1173.27,974.55 1192.91,974.33 1212.55,974.33 1232.2,975.64 1251.84,976.3 1271.7,977.17 1291.56,976.08" fill="none" stroke="#3CB371" stroke-width="1.5" stroke-linejoin="round"/><path d="M810.76,972.48h0M822.5,967.97h0M834.38,964.2h0M845.97,955.63h0M858,943.14h0M861.91,946.15h0M865.82,931.56h0M869.74,922.08h0M873.8,912.3h0M877.71,897.71h0M881.62,876.95h0M885.53,875.44h0M889.44,861.9h0M893.51,854.08h0M897.42,870.93h0M901.33,889.74h0M905.24,902.97h0M909.15,910.8h0M913.06,932.61h0M916.97,941.19h0M920.89,937.88h0M924.8,943.89h0M928.71,947.66h0M932.62,946.6h0M936.68,952.17h0M940.59,948.11h0M944.51,948.11h0M948.42,951.42h0M952.33,954.43h0M956.24,956.68h0M960.15,958.64h0M964.06,959.69h0M967.98,962.7h0M972.04,960.74h0M975.95,964.96h0M979.86,964.96h0M983.77,965.71h0M987.68,966.16h0M991.59,970.22h0M995.51,970.22h0M999.42,971.73h0M1003.33,975.49h0M1007.24,973.98h0M1011.15,976.24h0M1015.06,977.29h0M1018.98,978.2h0M1022.89,978.2h0M1026.8,978.2h0M1030.71,978.5h0M1034.62,978.2h0M1038.53,977.74h0M1042.75,978.2h0M1046.51,977.74h0M1050.27,977.29h0M1054.78,976.99h0M1074.62,977.17h0M1094.26,975.43h0M1114.12,977.17h0M1133.77,973.24h0M1153.41,975.43h0M1173.27,974.55h0M1192.91,974.33h0M1212.55,974.33h0M1232.2,975.64h0M1251.84,976.3h0M1271.7,977.17h0M1291.56,976.08h0" stroke="#3CB371" stroke-width="5.2" stroke-linecap="round" fill="none"/>
<polyline points="810.76,902.97 822.5,900.27 834.38,887.93 845.97,876.2 858,844.9 861.91,840.09 865.82,832.57 869.74,812.26 873.8,784.43 877.71,777.2 881.62,725 885.53,711.91 889.44,698.67 893.51,681.67 897.42,711.01 901.33,726.96 905.24,730.27 909.15,764.87 913.06,763.66 916.97,787.43 920.89,797.21 924.8,805.49 928.71,828.36 932.62,816.47 936.68,822.79 940.59,840.39 944.51,848.82 948.42,856.19 952.33,861.15 956.24,864.16 960.15,864.46 964.06,865.67 967.98,872.44 972.04,880.41 975.95,873.94 979.86,881.01 983.77,879.21 987.68,877.7 991.59,887.48 995.51,887.93 999.42,886.73 1003.33,886.43 1007.24,888.98 1011.15,889.74 1015.06,890.49 1018.98,891.99 1022.89,892.74 1026.8,892.74 1030.71,897.26 1034.62,895.45 1038.53,902.07 1042.75,901.02 1046.51,901.02 1050.27,901.77 1054.78,903.58 1074.62,905.15 1094.26,907.33 1114.12,907.33 1133.77,906.9 1153.41,905.59 1173.27,906.02 1192.91,904.28 1212.55,906.46 1232.2,906.9 1251.84,910.39 1271.7,909.52 1291.56,907.99" fill="none" stroke="#708090" stroke-width="1.5" stroke-linejoin="round"/><path d="M810.76,902.97h0M822.5,900.27h0M834.38,887.93h0M845.97,876.2h0M858,844.9h0M861.91,840.09h0M865.82,832.57h0M869.74,812.26h0M873.8,784.43h0M877.71,777.2h0M881.62,725h0M885.53,711.91h0M889.44,698.67h0M893.51,681.67h0M897.42,711.01h0M901.33,726.96h0M905.24,730.27h0M909.15,764.87h0M913.06,763.66h0M916.97,787.43h0M920.89,797.21h0M924.8,805.49h0M928.71,828.36h0M932.62,816.47h0M936.68,822.79h0M940.59,840.39h0M944.51,848.82h0M948.42,856.19h0M952.33,861.15h0M956.24,864.16h0M960.15,864.46h0M964.06,865.67h0M967.98,872.44h0M972.04,880.41h0M975.95,873.94h0M979.86,881.01h0M983.77,879.21h0M987.68,877.7h0M991.59,887.48h0M995.51,887.93h0M999.42,886.73h0M1003.33,886.43h0M1007.24,888.98h0M1011.15,889.74h0M1015.06,890.49h0M1018.98,891.99h0M1022.89,892.74h0M1026.8,892.74h0M1030.71,897.26h0M1034.62,895.45h0M1038.53,902.07h0M1042.75,901.02h0M1046.51,901.02h0M1050.27,901.77h0M1054.78,903.58h0M1074.62,905.15h0M1094.26,907.33h0M1114.12,907.33h0M1133.77,906.9h0M1153.41,905.59h0M1173.27,906.02h0M1192.91,904.28h0M1212.55,906.46h0M1232.2,906.9h0M1251.84,910.39h0M1271.7,909.52h0M1291.56,907.99h0" stroke="#708090" stroke-width="5.2" stroke-linecap="round" fill="none"/>
<polyline points="810.76,1032.66 812.76,1032 814.76,1031.23 816.76,1030.36 818.76,1029.39 820.76,1028.35 822.76,1027.24 824.76,1026.02 826.76,1024.65 828.76,1023.16 830.76,1021.55 832.76,1019.83 834.76,1018.01 836.76,1016.01 838.76,1013.8 840.76,1011.44 842.76,1008.96 844.76,1006.39 846.76,1003.77 848.76,1000.96 850.76,998.01 852.76,994.98 854.76,991.93 856.76,988.94 858.76,985.93 860.76,982.9 862.76,979.88 864.76,976.91 866.76,974.07 868.76,971.39 870.76,968.7 872.76,965.82 874.76,962.57 876.76,958.74 878.76,954.57 880.76,950.38 882.76,945.95 884.76,941.57 886.76,937.78 888.76,934.11 890.76,931.01 892.76,929.36 894.76,928.48 896.76,928.1 898.76,929 900.76,931.15 902.76,934.48 904.76,939.94 906.76,946.03 908.76,953.21 910.76,960.33 912.76,967.16 914.76,973.65 916.76,979.58 918.76,985.11 920.76,990.59 922.76,995.83 924.76,999.39 926.76,1001.99 928.76,1003.5 930.76,1004.31 932.76,1004.8 934.76,1005.06 936.76,1005.23 938.76,1005.39 940.76,1005.62 942.76,1005.94 944.76,1006.36 946.76,1006.87 948.76,1007.6 950.76,1008.52 952.76,1009.47 954.76,1010.44 956.76,1011.46 958.76,1012.48 960.76,1013.48 962.76,1014.48 964.76,1015.48 966.76,1016.51 968.76,1017.53 970.76,1018.47 972.76,1019.33 974.76,1020.15 976.76,1020.92 978.76,1021.61 980.76,1022.25 982.76,1022.85 984.76,1023.41 986.76,1023.94 988.76,1024.46 990.76,1024.94 992.76,1025.37 994.76,1025.74 996.76,1026.07 998.76,1026.37 1000.76,1026.66 1002.76,1026.94 1004.76,1027.21 1006.76,1027.48 1008.76,1027.73 1010.76,1027.97 1012.76,1028.18 1014.76,1028.37 1016.76,1028.53 1018.76,1028.68 1020.76,1028.81 1022.76,1028.93 1024.76,1029.04 1026.76,1029.15 1028.76,1029.25 1030.76,1029.35 1032.76,1029.44 1034.76,1029.52 1036.76,1029.6 1038.76,1029.67 1040.76,1029.74 1042.76,1029.82 1044.76,1029.9 1046.76,1030 1048.76,1030.11 1050.76,1030.24 1052.76,1030.39 1054.76,1030.54 1056.76,1030.69 1058.76,1030.85 1060.76,1031 1062.76,1031.15 1064.76,1031.29 1066.76,1031.42 1068.76,1031.53 1070.76,1031.62 1072.76,1031.69 1074.76,1031.73 1076.76,1031.76 1078.76,1031.79 1080.76,1031.81 1082.76,1031.83 1084.76,1031.85 1086.76,1031.87 1088.76,1031.88 1090.76,1031.9 1092.76,1031.91 1094.76,1031.92 1096.76,1031.93 1098.76,1031.94 1100.76,1031.95 1102.76,1031.96 1104.76,1031.97 1106.76,1031.98 1108.76,1031.98 1110.76,1031.99 1112.76,1032 1114.76,1032.01 1116.76,1032.02 1118.76,1032.04 1120.76,1032.05 1122.76,1032.06 1124.76,1032.08 1126.76,1032.09 1128.76,1032.11 1130.76,1032.13 1132.76,1032.16 1134.76,1032.18 1136.76,1032.22 1138.76,1032.26 1140.76,1032.31 1142.76,1032.37 1144.76,1032.43 1146.76,1032.5 1148.76,1032.57 1150.76,1032.65 1152.76,1032.72 1154.76,1032.8 1156.76,1032.89 1158.76,1032.97 1160.76,1033.05 1162.76,1033.13 1164.76,1033.2 1166.76,1033.27 1168.76,1033.34 1170.76,1033.41 1172.76,1033.47 1174.76,1033.52 1176.76,1033.57 1178.76,1033.62 1180.76,1033.67 1182.76,1033.72 1184.76,1033.77 1186.76,1033.81 1188.76,1033.86 1190.76,1033.9 1192.76,1033.95 1194.76,1033.99 1196.76,1034.04 1198.76,1034.08 1200.76,1034.12 1202.76,1034.16 1204.76,1034.2 1206.76,1034.24 1208.76,1034.28 1210.76,1034.32 1212.76,1034.36 1214.76,1034.39 1216.76,1034.43 1218.76,1034.46 1220.76,1034.5 1222.76,1034.53 1224.76,1034.56 1226.76,1034.59 1228.76,1034.62 1230.76,1034.65 1232.76,1034.68 1234.76,1034.71 1236.76,1034.74 1238.76,1034.77 1240.76,1034.8 1242.76,1034.84 1244.76,1034.87 1246.76,1034.91 1248.76,1034.95 1250.76,1034.98 1252.76,1035.03 1254.76,1035.07 1256.76,1035.11 1258.76,1035.16 1260.76,1035.21 1262.76,1035.26 1264.76,1035.31 1266.76,1035.36 1268.76,1035.41 1270.76,1035.47 1272.76,1035.52 1274.76,1035.58 1276.76,1035.64 1278.76,1035.7 1280.76,1035.76 1282.76,1035.82 1284.76,1035.88 1286.76,1035.94 1288.76,1036.01 1290.76,1036.07 1291.56,1036.1" fill="none" stroke="#000" stroke-width="1.6" stroke-linejoin="round"/>
<polyline points="810.76,973.68 812.76,973.05 814.76,972.32 816.76,971.49 818.76,970.59 820.76,969.61 822.76,968.58 824.76,967.43 826.76,966.14 828.76,964.74 830.76,963.26 832.76,961.72 834.76,960.14 836.76,958.47 838.76,956.69 840.76,954.83 842.76,952.94 844.76,951.04 846.76,949.17 848.76,947.26 850.76,945.34 852.76,943.4 854.76,941.49 856.76,939.61 858.76,937.88 860.76,936.2 862.76,934.42 864.76,932.38 866.76,929.95 868.76,927.08 870.76,923.71 872.76,919.59 874.76,914.51 876.76,909.1 878.76,903.53 880.76,897.52 882.76,892.3 884.76,888.49 886.76,885.48 888.76,883.75 890.76,882.56 892.76,882.26 894.76,883.31 896.76,885.17 898.76,888.29 900.76,892.88 902.76,898.1 904.76,904.33 906.76,910.81 908.76,917.7 910.76,924.03 912.76,929.7 914.76,934.63 916.76,938.8 918.76,942.28 920.76,944.82 922.76,946.8 924.76,948.25 926.76,949.48 928.76,949.91 930.76,949.91 932.76,949.91 934.76,949.91 936.76,949.98 938.76,950.1 940.76,950.23 942.76,950.35 944.76,950.5 946.76,950.7 948.76,951.09 950.76,951.65 952.76,952.26 954.76,952.93 956.76,953.7 958.76,954.54 960.76,955.47 962.76,956.48 964.76,957.57 966.76,958.78 968.76,960.07 970.76,961.34 972.76,962.57 974.76,963.8 976.76,964.98 978.76,966.09 980.76,967.16 982.76,968.18 984.76,969.12 986.76,969.96 988.76,970.76 990.76,971.48 992.76,972.09 994.76,972.58 996.76,973.01 998.76,973.38 1000.76,973.7 1002.76,973.99 1004.76,974.25 1006.76,974.46 1008.76,974.63 1010.76,974.78 1012.76,974.9 1014.76,975 1016.76,975.08 1018.76,975.17 1020.76,975.25 1022.76,975.33 1024.76,975.39 1026.76,975.44 1028.76,975.48 1030.76,975.49 1032.76,975.49 1034.76,975.49 1036.76,975.49 1038.76,975.49 1040.76,975.49 1042.76,975.49 1044.76,975.49 1046.76,975.49 1048.76,975.49 1050.76,975.5 1052.76,975.5 1054.76,975.51 1056.76,975.52 1058.76,975.53 1060.76,975.55 1062.76,975.56 1064.76,975.58 1066.76,975.59 1068.76,975.6 1070.76,975.62 1072.76,975.63 1074.76,975.64 1076.76,975.66 1078.76,975.67 1080.76,975.68 1082.76,975.7 1084.76,975.71 1086.76,975.72 1088.76,975.74 1090.76,975.75 1092.76,975.77 1094.76,975.78 1096.76,975.8 1098.76,975.81 1100.76,975.83 1102.76,975.84 1104.76,975.86 1106.76,975.87 1108.76,975.89 1110.76,975.9 1112.76,975.92 1114.76,975.93 1116.76,975.95 1118.76,975.97 1120.76,975.98 1122.76,976 1124.76,976.01 1126.76,976.03 1128.76,976.04 1130.76,976.06 1132.76,976.07 1134.76,976.09 1136.76,976.1 1138.76,976.12 1140.76,976.13 1142.76,976.14 1144.76,976.16 1146.76,976.17 1148.76,976.19 1150.76,976.2 1152.76,976.21 1154.76,976.23 1156.76,976.24 1158.76,976.26 1160.76,976.27 1162.76,976.28 1164.76,976.3 1166.76,976.31 1168.76,976.33 1170.76,976.34 1172.76,976.36 1174.76,976.37 1176.76,976.38 1178.76,976.4 1180.76,976.42 1182.76,976.43 1184.76,976.45 1186.76,976.46 1188.76,976.48 1190.76,976.5 1192.76,976.52 1194.76,976.53 1196.76,976.55 1198.76,976.57 1200.76,976.59 1202.76,976.61 1204.76,976.63 1206.76,976.65 1208.76,976.67 1210.76,976.7 1212.76,976.72 1214.76,976.74 1216.76,976.76 1218.76,976.79 1220.76,976.81 1222.76,976.83 1224.76,976.86 1226.76,976.88 1228.76,976.9 1230.76,976.93 1232.76,976.95 1234.76,976.97 1236.76,977 1238.76,977.02 1240.76,977.05 1242.76,977.07 1244.76,977.09 1246.76,977.11 1248.76,977.14 1250.76,977.16 1252.76,977.18 1254.76,977.2 1256.76,977.23 1258.76,977.25 1260.76,977.27 1262.76,977.29 1264.76,977.31 1266.76,977.34 1268.76,977.36 1270.76,977.38 1272.76,977.4 1274.76,977.42 1276.76,977.45 1278.76,977.47 1280.76,977.49 1282.76,977.51 1284.76,977.53 1286.76,977.56 1288.76,977.58 1290.76,977.6 1291.56,977.61" fill="none" stroke="#000" stroke-width="1.6" stroke-linejoin="round"/>
<polyline points="810.76,905.98 812.76,905.33 814.76,904.49 816.76,903.49 818.76,902.35 820.76,901.11 822.76,899.78 824.76,898.24 826.76,896.43 828.76,894.43 830.76,892.28 832.76,890.05 834.76,887.8 836.76,885.48 838.76,883.04 840.76,880.48 842.76,877.78 844.76,874.96 846.76,871.97 848.76,868.7 850.76,865.21 852.76,861.61 854.76,858.02 856.76,854.48 858.76,850.92 860.76,847.28 862.76,843.48 864.76,839.47 866.76,835.21 868.76,830.77 870.76,826.16 872.76,821.47 874.76,816.61 876.76,811.38 878.76,805.44 880.76,798.76 882.76,792.08 884.76,785.75 886.76,779.48 888.76,773.76 890.76,768.82 892.76,764.5 894.76,761.03 896.76,758.07 898.76,756.33 900.76,755.33 902.76,755.15 904.76,755.94 906.76,757.52 908.76,761.22 910.76,765.84 912.76,771.61 914.76,778.07 916.76,784.61 918.76,791.37 920.76,798 922.76,804.62 924.76,811.68 926.76,819.48 928.76,826.03 930.76,831.04 932.76,835.26 934.76,838.95 936.76,842.14 938.76,844.85 940.76,847.18 942.76,849.1 944.76,850.72 946.76,851.99 948.76,852.92 950.76,853.7 952.76,854.5 954.76,855.3 956.76,856.11 958.76,857.08 960.76,858.31 962.76,859.75 964.76,861.36 966.76,863.24 968.76,865.33 970.76,867.4 972.76,869.45 974.76,871.51 976.76,873.5 978.76,875.32 980.76,877.07 982.76,878.72 984.76,880.18 986.76,881.41 988.76,882.5 990.76,883.46 992.76,884.33 994.76,885.1 996.76,885.77 998.76,886.41 1000.76,887.08 1002.76,887.8 1004.76,888.54 1006.76,889.27 1008.76,889.94 1010.76,890.57 1012.76,891.18 1014.76,891.75 1016.76,892.28 1018.76,892.78 1020.76,893.26 1022.76,893.72 1024.76,894.17 1026.76,894.6 1028.76,895.04 1030.76,895.46 1032.76,895.9 1034.76,896.35 1036.76,896.8 1038.76,897.23 1040.76,897.64 1042.76,898.01 1044.76,898.33 1046.76,898.59 1048.76,898.83 1050.76,899.06 1052.76,899.28 1054.76,899.48 1056.76,899.68 1058.76,899.86 1060.76,900.03 1062.76,900.2 1064.76,900.35 1066.76,900.5 1068.76,900.64 1070.76,900.77 1072.76,900.89 1074.76,901.01 1076.76,901.12 1078.76,901.22 1080.76,901.31 1082.76,901.39 1084.76,901.47 1086.76,901.55 1088.76,901.63 1090.76,901.72 1092.76,901.81 1094.76,901.9 1096.76,902 1098.76,902.11 1100.76,902.22 1102.76,902.33 1104.76,902.44 1106.76,902.55 1108.76,902.67 1110.76,902.78 1112.76,902.89 1114.76,903 1116.76,903.12 1118.76,903.24 1120.76,903.36 1122.76,903.48 1124.76,903.6 1126.76,903.71 1128.76,903.82 1130.76,903.92 1132.76,904.02 1134.76,904.1 1136.76,904.18 1138.76,904.26 1140.76,904.33 1142.76,904.4 1144.76,904.46 1146.76,904.52 1148.76,904.58 1150.76,904.64 1152.76,904.7 1154.76,904.75 1156.76,904.8 1158.76,904.84 1160.76,904.88 1162.76,904.92 1164.76,904.96 1166.76,905 1168.76,905.04 1170.76,905.09 1172.76,905.14 1174.76,905.19 1176.76,905.25 1178.76,905.3 1180.76,905.37 1182.76,905.43 1184.76,905.5 1186.76,905.57 1188.76,905.64 1190.76,905.72 1192.76,905.8 1194.76,905.89 1196.76,905.98 1198.76,906.09 1200.76,906.2 1202.76,906.32 1204.76,906.44 1206.76,906.56 1208.76,906.68 1210.76,906.79 1212.76,906.91 1214.76,907.02 1216.76,907.12 1218.76,907.23 1220.76,907.33 1222.76,907.44 1224.76,907.55 1226.76,907.66 1228.76,907.78 1230.76,907.9 1232.76,908.03 1234.76,908.17 1236.76,908.33 1238.76,908.49 1240.76,908.66 1242.76,908.84 1244.76,909.01 1246.76,909.17 1248.76,909.32 1250.76,909.45 1252.76,909.57 1254.76,909.67 1256.76,909.77 1258.76,909.86 1260.76,909.94 1262.76,910.02 1264.76,910.1 1266.76,910.18 1268.76,910.26 1270.76,910.35 1272.76,910.44 1274.76,910.52 1276.76,910.61 1278.76,910.7 1280.76,910.79 1282.76,910.87 1284.76,910.96 1286.76,911.05 1288.76,911.14 1290.76,911.23 1291.56,911.26" fill="none" stroke="#000" stroke-width="1.6" stroke-linejoin="round"/>
<rect x="787" y="624.4" width="529.2" height="420.1" fill="none" stroke="#000" stroke-width="2.3"/>
<path d="M854,1044.5v-3.2M932.85,1044.5v-3.2M1011.7,1044.5v-3.2M1090.55,1044.5v-3.2M1169.4,1044.5v-3.2M1248.25,1044.5v-3.2M787,1044.5h3.2M787,984.44h3.2M787,924.38h3.2M787,864.32h3.2M787,804.26h3.2M787,744.2h3.2M787,684.14h3.2M787,624.08h3.2" stroke="#000" stroke-width="2" fill="none"/>
<text x="854" y="1068.5" font-size="20.8" text-anchor="middle">850</text>
<text x="932.85" y="1068.5" font-size="20.8" text-anchor="middle">852</text>
<text x="1011.7" y="1068.5" font-size="20.8" text-anchor="middle">854</text>
<text x="1090.55" y="1068.5" font-size="20.8" text-anchor="middle">856</text>
<text x="1169.4" y="1068.5" font-size="20.8" text-anchor="middle">858</text>
<text x="1248.25" y="1068.5" font-size="20.8" text-anchor="middle">860</text>
<text x="783.3" y="1052.35" font-size="20.8" text-anchor="end">0.0</text>
<text x="783.3" y="992.29" font-size="20.8" text-anchor="end">0.1</text>
<text x="783.3" y="932.23" font-size="20.8" text-anchor="end">0.2</text>
<text x="783.3" y="872.17" font-size="20.8" text-anchor="end">0.3</text>
<text x="783.3" y="812.11" font-size="20.8" text-anchor="end">0.4</text>
<text x="783.3" y="752.05" font-size="20.8" text-anchor="end">0.5</text>
<text x="783.3" y="691.99" font-size="20.8" text-anchor="end">0.6</text>
<text x="783.3" y="631.93" font-size="20.8" text-anchor="end">0.7</text>
<text x="792.6" y="651.7" font-size="26.6">4th Order</text>
<line x1="1171" y1="643" x2="1226" y2="643" stroke="#F08080" stroke-width="1.5"/><circle cx="1198.5" cy="643" r="2.6" fill="#F08080"/><text x="1245.8" y="652.3" font-size="26.6">OCP</text>
<line x1="1171" y1="681" x2="1226" y2="681" stroke="#3CB371" stroke-width="1.5"/><circle cx="1198.5" cy="681" r="2.6" fill="#3CB371"/><text x="1245.8" y="689.6" font-size="26.6">1.2 V</text>
<line x1="1171" y1="718.2" x2="1226" y2="718.2" stroke="#708090" stroke-width="1.5"/><circle cx="1198.5" cy="718.2" r="2.6" fill="#708090"/><text x="1245.8" y="727.4" font-size="26.6">1.6 V</text>
<text transform="translate(729.24,833.25) rotate(-90)" font-size="26.6" text-anchor="middle">Diffraction Intensity <tspan font-family="'DejaVu Sans',sans-serif" font-size="25.27">×</tspan> 10<tspan font-family="'DejaVu Sans',sans-serif" font-size="18.62" dy="-10.11">−2</tspan><tspan dy="10.11"> (a.u.)</tspan></text>
<text x="1051.6" y="1110.8" font-size="26.6" text-anchor="middle">Photon Energy (eV)</text>
</g>
<g>
<polyline points="1482.57,1029.95 1494.6,1028.14 1506.64,1023.93 1518.67,1027.39 1530.71,1023.93 1534.47,1021.37 1538.23,1012.8 1542.29,1014.9 1546.2,1015.36 1550.27,1015.81 1554.03,1008.59 1557.94,1012.35 1562,1003.32 1566.06,1006.78 1569.97,1005.58 1573.89,1014.9 1577.8,1020.92 1581.71,1020.62 1585.77,1027.39 1589.68,1027.39 1593.59,1028.9 1597.51,1028.9 1601.42,1028.14 1605.33,1029.35 1609.24,1026.94 1613.45,1028.14 1617.36,1028.9 1621.28,1027.39 1625.49,1028.9 1629.4,1026.94 1633.31,1028.9 1637.22,1029.35 1641.28,1030.85 1645.2,1031.45 1649.11,1031.15 1653.02,1031.15 1657.08,1031.45 1660.99,1032.36 1664.9,1032.66 1668.82,1034.16 1672.73,1030.4 1676.64,1032.36 1680.7,1032.66 1684.61,1031.15 1688.67,1032.66 1692.59,1029.35 1696.5,1031.9 1700.71,1032.36 1704.62,1030.85 1708.53,1028.44 1712.75,1031.15 1716.51,1031.9 1720.42,1032.36 1724.33,1032.36 1728.24,1032.96 1748.33,1033.88 1767.94,1032.87 1788.22,1031.85 1807.83,1031.85 1827.78,1031.51 1847.38,1032.53 1867.67,1032.19 1887.95,1033.2 1907.56,1034.22 1927.51,1036.25 1947.45,1034.56 1967.4,1033.88" fill="none" stroke="#F08080" stroke-width="1.5" stroke-linejoin="round"/><path d="M1482.57,1029.95h0M1494.6,1028.14h0M1506.64,1023.93h0M1518.67,1027.39h0M1530.71,1023.93h0M1534.47,1021.37h0M1538.23,1012.8h0M1542.29,1014.9h0M1546.2,1015.36h0M1550.27,1015.81h0M1554.03,1008.59h0M1557.94,1012.35h0M1562,1003.32h0M1566.06,1006.78h0M1569.97,1005.58h0M1573.89,1014.9h0M1577.8,1020.92h0M1581.71,1020.62h0M1585.77,1027.39h0M1589.68,1027.39h0M1593.59,1028.9h0M1597.51,1028.9h0M1601.42,1028.14h0M1605.33,1029.35h0M1609.24,1026.94h0M1613.45,1028.14h0M1617.36,1028.9h0M1621.28,1027.39h0M1625.49,1028.9h0M1629.4,1026.94h0M1633.31,1028.9h0M1637.22,1029.35h0M1641.28,1030.85h0M1645.2,1031.45h0M1649.11,1031.15h0M1653.02,1031.15h0M1657.08,1031.45h0M1660.99,1032.36h0M1664.9,1032.66h0M1668.82,1034.16h0M1672.73,1030.4h0M1676.64,1032.36h0M1680.7,1032.66h0M1684.61,1031.15h0M1688.67,1032.66h0M1692.59,1029.35h0M1696.5,1031.9h0M1700.71,1032.36h0M1704.62,1030.85h0M1708.53,1028.44h0M1712.75,1031.15h0M1716.51,1031.9h0M1720.42,1032.36h0M1724.33,1032.36h0M1728.24,1032.96h0M1748.33,1033.88h0M1767.94,1032.87h0M1788.22,1031.85h0M1807.83,1031.85h0M1827.78,1031.51h0M1847.38,1032.53h0M1867.67,1032.19h0M1887.95,1033.2h0M1907.56,1034.22h0M1927.51,1036.25h0M1947.45,1034.56h0M1967.4,1033.88h0" stroke="#F08080" stroke-width="5.2" stroke-linecap="round" fill="none"/>
<polyline points="1482.57,956.38 1494.6,952.17 1506.64,952.47 1518.67,948.41 1530.71,938.63 1534.47,941.64 1538.23,943.14 1542.29,932.61 1546.2,930.36 1550.27,924.64 1554.03,921.63 1557.94,922.53 1562,916.06 1566.06,916.06 1569.97,925.84 1573.89,938.18 1577.8,944.65 1581.71,951.42 1585.77,955.63 1589.68,958.19 1593.59,955.93 1597.51,952.62 1601.42,954.73 1605.33,955.18 1609.24,952.17 1613.45,951.12 1617.36,949.61 1621.28,951.72 1625.49,955.93 1629.4,956.23 1633.31,955.93 1637.22,952.92 1641.28,957.13 1645.2,954.73 1649.11,957.13 1653.02,955.93 1657.08,957.74 1660.99,960.44 1664.9,955.63 1668.82,960.14 1672.73,957.13 1676.64,960.14 1680.7,959.69 1684.61,958.19 1688.67,955.18 1692.59,958.19 1696.5,954.73 1700.71,955.63 1704.62,957.74 1708.53,958.19 1712.75,957.13 1716.51,958.19 1720.42,955.18 1724.33,955.93 1728.24,956.23 1748.33,956.13 1767.94,960.52 1788.22,958.49 1807.83,955.45 1827.78,956.46 1847.38,953.08 1867.67,956.13 1887.95,957.48 1907.56,956.8 1927.51,955.45 1947.45,955.45 1967.4,954.77" fill="none" stroke="#3CB371" stroke-width="1.5" stroke-linejoin="round"/><path d="M1482.57,956.38h0M1494.6,952.17h0M1506.64,952.47h0M1518.67,948.41h0M1530.71,938.63h0M1534.47,941.64h0M1538.23,943.14h0M1542.29,932.61h0M1546.2,930.36h0M1550.27,924.64h0M1554.03,921.63h0M1557.94,922.53h0M1562,916.06h0M1566.06,916.06h0M1569.97,925.84h0M1573.89,938.18h0M1577.8,944.65h0M1581.71,951.42h0M1585.77,955.63h0M1589.68,958.19h0M1593.59,955.93h0M1597.51,952.62h0M1601.42,954.73h0M1605.33,955.18h0M1609.24,952.17h0M1613.45,951.12h0M1617.36,949.61h0M1621.28,951.72h0M1625.49,955.93h0M1629.4,956.23h0M1633.31,955.93h0M1637.22,952.92h0M1641.28,957.13h0M1645.2,954.73h0M1649.11,957.13h0M1653.02,955.93h0M1657.08,957.74h0M1660.99,960.44h0M1664.9,955.63h0M1668.82,960.14h0M1672.73,957.13h0M1676.64,960.14h0M1680.7,959.69h0M1684.61,958.19h0M1688.67,955.18h0M1692.59,958.19h0M1696.5,954.73h0M1700.71,955.63h0M1704.62,957.74h0M1708.53,958.19h0M1712.75,957.13h0M1716.51,958.19h0M1720.42,955.18h0M1724.33,955.93h0M1728.24,956.23h0M1748.33,956.13h0M1767.94,960.52h0M1788.22,958.49h0M1807.83,955.45h0M1827.78,956.46h0M1847.38,953.08h0M1867.67,956.13h0M1887.95,957.48h0M1907.56,956.8h0M1927.51,955.45h0M1947.45,955.45h0M1967.4,954.77h0" stroke="#3CB371" stroke-width="5.2" stroke-linecap="round" fill="none"/>
<polyline points="1482.57,865.21 1494.6,862.36 1506.64,850.92 1518.67,829.56 1530.71,804.74 1534.47,807.74 1538.23,799.47 1542.29,781.42 1546.2,752.53 1550.27,743.51 1554.03,694.46 1557.94,690.4 1562,685.89 1566.06,687.39 1569.97,708.75 1573.89,751.33 1577.8,748.62 1581.71,793.15 1585.77,799.17 1589.68,814.06 1593.59,822.79 1597.51,829.56 1601.42,836.33 1605.33,826.85 1609.24,826.55 1613.45,827.3 1617.36,837.83 1621.28,837.08 1625.49,836.78 1629.4,843.85 1633.31,836.33 1637.22,845.36 1641.28,840.09 1645.2,849.87 1649.11,848.36 1653.02,855.89 1657.08,855.44 1660.99,848.82 1664.9,856.34 1668.82,858.9 1672.73,858.14 1676.64,859.95 1680.7,853.63 1684.61,861.15 1688.67,867.17 1692.59,862.96 1696.5,859.65 1700.71,860.4 1704.62,866.87 1708.53,862.66 1712.75,869.43 1716.51,870.48 1720.42,864.16 1724.33,868.67 1728.24,866.42 1748.33,873.3 1767.94,869.58 1788.22,869.58 1807.83,869.24 1827.78,865.52 1847.38,871.61 1867.67,871.61 1887.95,873.3 1907.56,870.26 1927.51,874.99 1947.45,874.99 1967.4,872.96" fill="none" stroke="#708090" stroke-width="1.5" stroke-linejoin="round"/><path d="M1482.57,865.21h0M1494.6,862.36h0M1506.64,850.92h0M1518.67,829.56h0M1530.71,804.74h0M1534.47,807.74h0M1538.23,799.47h0M1542.29,781.42h0M1546.2,752.53h0M1550.27,743.51h0M1554.03,694.46h0M1557.94,690.4h0M1562,685.89h0M1566.06,687.39h0M1569.97,708.75h0M1573.89,751.33h0M1577.8,748.62h0M1581.71,793.15h0M1585.77,799.17h0M1589.68,814.06h0M1593.59,822.79h0M1597.51,829.56h0M1601.42,836.33h0M1605.33,826.85h0M1609.24,826.55h0M1613.45,827.3h0M1617.36,837.83h0M1621.28,837.08h0M1625.49,836.78h0M1629.4,843.85h0M1633.31,836.33h0M1637.22,845.36h0M1641.28,840.09h0M1645.2,849.87h0M1649.11,848.36h0M1653.02,855.89h0M1657.08,855.44h0M1660.99,848.82h0M1664.9,856.34h0M1668.82,858.9h0M1672.73,858.14h0M1676.64,859.95h0M1680.7,853.63h0M1684.61,861.15h0M1688.67,867.17h0M1692.59,862.96h0M1696.5,859.65h0M1700.71,860.4h0M1704.62,866.87h0M1708.53,862.66h0M1712.75,869.43h0M1716.51,870.48h0M1720.42,864.16h0M1724.33,868.67h0M1728.24,866.42h0M1748.33,873.3h0M1767.94,869.58h0M1788.22,869.58h0M1807.83,869.24h0M1827.78,865.52h0M1847.38,871.61h0M1867.67,871.61h0M1887.95,873.3h0M1907.56,870.26h0M1927.51,874.99h0M1947.45,874.99h0M1967.4,872.96h0" stroke="#708090" stroke-width="5.2" stroke-linecap="round" fill="none"/>
<polyline points="1482.57,1031.9 1484.57,1031.72 1486.57,1031.51 1488.57,1031.27 1490.57,1031 1492.57,1030.71 1494.57,1030.41 1496.57,1030.07 1498.57,1029.68 1500.57,1029.26 1502.57,1028.81 1504.57,1028.34 1506.57,1027.86 1508.57,1027.35 1510.57,1026.82 1512.57,1026.25 1514.57,1025.66 1516.57,1025.05 1518.57,1024.42 1520.57,1023.77 1522.57,1023.11 1524.57,1022.42 1526.57,1021.68 1528.57,1020.89 1530.57,1020.04 1532.57,1019.13 1534.57,1018.03 1536.57,1016.58 1538.57,1014.65 1540.57,1012.4 1542.57,1009.9 1544.57,1006.98 1546.57,1003.74 1548.57,1000.09 1550.57,995.8 1552.57,991.74 1554.57,988.46 1556.57,985.62 1558.57,984.04 1560.57,983.05 1562.57,982.72 1564.57,983.25 1566.57,984.36 1568.57,986.6 1570.57,990.46 1572.57,994.92 1574.57,1000.46 1576.57,1006.1 1578.57,1011.87 1580.57,1017.43 1582.57,1023.03 1584.57,1027.66 1586.57,1030.53 1588.57,1032.54 1590.57,1033.33 1592.57,1033.76 1594.57,1033.81 1596.57,1033.3 1598.57,1032.63 1600.57,1032.29 1602.57,1032.12 1604.57,1031.98 1606.57,1031.91 1608.57,1031.92 1610.57,1031.98 1612.57,1032.09 1614.57,1032.22 1616.57,1032.36 1618.57,1032.54 1620.57,1032.76 1622.57,1033.01 1624.57,1033.28 1626.57,1033.57 1628.57,1033.94 1630.57,1034.33 1632.57,1034.68 1634.57,1034.92 1636.57,1035.09 1638.57,1035.25 1640.57,1035.39 1642.57,1035.51 1644.57,1035.6 1646.57,1035.65 1648.57,1035.67 1650.57,1035.66 1652.57,1035.64 1654.57,1035.62 1656.57,1035.59 1658.57,1035.56 1660.57,1035.53 1662.57,1035.49 1664.57,1035.46 1666.57,1035.42 1668.57,1035.39 1670.57,1035.37 1672.57,1035.34 1674.57,1035.32 1676.57,1035.3 1678.57,1035.27 1680.57,1035.25 1682.57,1035.23 1684.57,1035.21 1686.57,1035.19 1688.57,1035.17 1690.57,1035.15 1692.57,1035.13 1694.57,1035.11 1696.57,1035.09 1698.57,1035.08 1700.57,1035.06 1702.57,1035.05 1704.57,1035.04 1706.57,1035.02 1708.57,1035.01 1710.57,1035 1712.57,1034.98 1714.57,1034.97 1716.57,1034.96 1718.57,1034.95 1720.57,1034.94 1722.57,1034.93 1724.57,1034.92 1726.57,1034.92 1728.57,1034.91 1730.57,1034.91 1732.57,1034.93 1734.57,1034.99 1736.57,1035.08 1738.57,1035.19 1740.57,1035.3 1742.57,1035.4 1744.57,1035.49 1746.57,1035.55 1748.57,1035.57 1750.57,1035.57 1752.57,1035.57 1754.57,1035.57 1756.57,1035.57 1758.57,1035.57 1760.57,1035.57 1762.57,1035.57 1764.57,1035.57 1766.57,1035.57 1768.57,1035.57 1770.57,1035.57 1772.57,1035.57 1774.57,1035.57 1776.57,1035.57 1778.57,1035.57 1780.57,1035.57 1782.57,1035.57 1784.57,1035.57 1786.57,1035.57 1788.57,1035.57 1790.57,1035.57 1792.57,1035.57 1794.57,1035.57 1796.57,1035.57 1798.57,1035.57 1800.57,1035.57 1802.57,1035.57 1804.57,1035.57 1806.57,1035.57 1808.57,1035.57 1810.57,1035.57 1812.57,1035.57 1814.57,1035.57 1816.57,1035.57 1818.57,1035.57 1820.57,1035.57 1822.57,1035.57 1824.57,1035.57 1826.57,1035.57 1828.57,1035.57 1830.57,1035.57 1832.57,1035.57 1834.57,1035.57 1836.57,1035.57 1838.57,1035.57 1840.57,1035.57 1842.57,1035.57 1844.57,1035.57 1846.57,1035.57 1848.57,1035.57 1850.57,1035.57 1852.57,1035.57 1854.57,1035.57 1856.57,1035.57 1858.57,1035.57 1860.57,1035.57 1862.57,1035.57 1864.57,1035.57 1866.57,1035.57 1868.57,1035.57 1870.57,1035.57 1872.57,1035.57 1874.57,1035.57 1876.57,1035.57 1878.57,1035.57 1880.57,1035.57 1882.57,1035.57 1884.57,1035.57 1886.57,1035.57 1888.57,1035.57 1890.57,1035.57 1892.57,1035.57 1894.57,1035.57 1896.57,1035.57 1898.57,1035.57 1900.57,1035.57 1902.57,1035.57 1904.57,1035.57 1906.57,1035.57 1908.57,1035.57 1910.57,1035.57 1912.57,1035.57 1914.57,1035.57 1916.57,1035.57 1918.57,1035.57 1920.57,1035.57 1922.57,1035.57 1924.57,1035.57 1926.57,1035.57 1928.57,1035.57 1930.57,1035.57 1932.57,1035.57 1934.57,1035.57 1936.57,1035.57 1938.57,1035.57 1940.57,1035.57 1942.57,1035.57 1944.57,1035.57 1946.57,1035.57 1948.57,1035.57 1950.57,1035.57 1952.57,1035.57 1954.57,1035.57 1956.57,1035.57 1958.57,1035.57 1960.57,1035.57 1962.57,1035.57 1964.57,1035.57 1966.57,1035.57 1967.4,1035.57" fill="none" stroke="#000" stroke-width="1.6" stroke-linejoin="round"/>
<polyline points="1482.57,958.64 1484.57,958.51 1486.57,958.34 1488.57,958.15 1490.57,957.93 1492.57,957.69 1494.57,957.44 1496.57,957.15 1498.57,956.82 1500.57,956.44 1502.57,956.04 1504.57,955.62 1506.57,955.19 1508.57,954.75 1510.57,954.27 1512.57,953.78 1514.57,953.26 1516.57,952.73 1518.57,952.2 1520.57,951.69 1522.57,951.19 1524.57,950.68 1526.57,950.1 1528.57,949.41 1530.57,948.55 1532.57,947.4 1534.57,945.95 1536.57,944.02 1538.57,941.28 1540.57,937.85 1542.57,933.3 1544.57,927.94 1546.57,921.11 1548.57,914.36 1550.57,908.89 1552.57,904.39 1554.57,901.61 1556.57,899.61 1558.57,898.94 1560.57,898.76 1562.57,899.71 1564.57,902.22 1566.57,905.52 1568.57,910.45 1570.57,915.84 1572.57,921.88 1574.57,928.04 1576.57,934.37 1578.57,940.18 1580.57,944.88 1582.57,948.76 1584.57,951.42 1586.57,953.46 1588.57,954.28 1590.57,954.61 1592.57,954.73 1594.57,954.68 1596.57,954.59 1598.57,954.45 1600.57,954.3 1602.57,954.15 1604.57,954 1606.57,953.84 1608.57,953.66 1610.57,953.48 1612.57,953.3 1614.57,953.12 1616.57,952.9 1618.57,952.67 1620.57,952.45 1622.57,952.28 1624.57,952.18 1626.57,952.18 1628.57,952.24 1630.57,952.34 1632.57,952.47 1634.57,952.62 1636.57,952.85 1638.57,953.17 1640.57,953.54 1642.57,953.94 1644.57,954.32 1646.57,954.74 1648.57,955.18 1650.57,955.63 1652.57,956.08 1654.57,956.49 1656.57,956.87 1658.57,957.25 1660.57,957.63 1662.57,957.99 1664.57,958.3 1666.57,958.55 1668.57,958.71 1670.57,958.84 1672.57,958.95 1674.57,959.04 1676.57,959.12 1678.57,959.2 1680.57,959.27 1682.57,959.35 1684.57,959.42 1686.57,959.49 1688.57,959.55 1690.57,959.61 1692.57,959.67 1694.57,959.72 1696.57,959.76 1698.57,959.81 1700.57,959.84 1702.57,959.87 1704.57,959.9 1706.57,959.93 1708.57,959.95 1710.57,959.98 1712.57,960 1714.57,960.02 1716.57,960.04 1718.57,960.06 1720.57,960.08 1722.57,960.1 1724.57,960.11 1726.57,960.12 1728.57,960.13 1730.57,960.14 1732.57,960.15 1734.57,960.16 1736.57,960.16 1738.57,960.17 1740.57,960.17 1742.57,960.18 1744.57,960.18 1746.57,960.18 1748.57,960.18 1750.57,960.18 1752.57,960.18 1754.57,960.18 1756.57,960.18 1758.57,960.17 1760.57,960.17 1762.57,960.16 1764.57,960.16 1766.57,960.15 1768.57,960.14 1770.57,960.14 1772.57,960.13 1774.57,960.12 1776.57,960.11 1778.57,960.1 1780.57,960.1 1782.57,960.09 1784.57,960.08 1786.57,960.07 1788.57,960.05 1790.57,960.04 1792.57,960.03 1794.57,960.02 1796.57,960.01 1798.57,960 1800.57,959.99 1802.57,959.98 1804.57,959.96 1806.57,959.95 1808.57,959.94 1810.57,959.93 1812.57,959.92 1814.57,959.91 1816.57,959.9 1818.57,959.89 1820.57,959.88 1822.57,959.87 1824.57,959.86 1826.57,959.85 1828.57,959.84 1830.57,959.83 1832.57,959.82 1834.57,959.81 1836.57,959.8 1838.57,959.79 1840.57,959.78 1842.57,959.77 1844.57,959.76 1846.57,959.75 1848.57,959.74 1850.57,959.73 1852.57,959.72 1854.57,959.71 1856.57,959.7 1858.57,959.69 1860.57,959.68 1862.57,959.67 1864.57,959.66 1866.57,959.65 1868.57,959.64 1870.57,959.63 1872.57,959.62 1874.57,959.61 1876.57,959.6 1878.57,959.59 1880.57,959.58 1882.57,959.57 1884.57,959.56 1886.57,959.55 1888.57,959.54 1890.57,959.53 1892.57,959.52 1894.57,959.51 1896.57,959.5 1898.57,959.49 1900.57,959.48 1902.57,959.47 1904.57,959.46 1906.57,959.45 1908.57,959.44 1910.57,959.43 1912.57,959.42 1914.57,959.41 1916.57,959.4 1918.57,959.39 1920.57,959.38 1922.57,959.37 1924.57,959.36 1926.57,959.36 1928.57,959.35 1930.57,959.34 1932.57,959.33 1934.57,959.32 1936.57,959.31 1938.57,959.3 1940.57,959.29 1942.57,959.28 1944.57,959.27 1946.57,959.26 1948.57,959.25 1950.57,959.24 1952.57,959.24 1954.57,959.23 1956.57,959.22 1958.57,959.21 1960.57,959.2 1962.57,959.19 1964.57,959.18 1966.57,959.17 1967.4,959.17" fill="none" stroke="#000" stroke-width="1.6" stroke-linejoin="round"/>
<polyline points="1482.57,863.41 1484.57,862.72 1486.57,861.86 1488.57,860.85 1490.57,859.72 1492.57,858.49 1494.57,857.13 1496.57,855.57 1498.57,853.81 1500.57,851.87 1502.57,849.76 1504.57,847.52 1506.57,845.09 1508.57,842.32 1510.57,839.28 1512.57,836.03 1514.57,832.62 1516.57,829.12 1518.57,825.53 1520.57,821.75 1522.57,817.75 1524.57,813.56 1526.57,809.18 1528.57,804.68 1530.57,799.99 1532.57,794.94 1534.57,789.39 1536.57,783.07 1538.57,775.72 1540.57,767.67 1542.57,758.96 1544.57,749.22 1546.57,739.46 1548.57,730.41 1550.57,721.62 1552.57,713.41 1554.57,705.97 1556.57,699.19 1558.57,693.61 1560.57,688.7 1562.57,685.62 1564.57,683.85 1566.57,683.39 1568.57,684.61 1570.57,687.13 1572.57,693.46 1574.57,701 1576.57,708.66 1578.57,717.01 1580.57,725.82 1582.57,735.29 1584.57,745.71 1586.57,757.19 1588.57,768.97 1590.57,781.28 1592.57,792.91 1594.57,803.4 1596.57,813 1598.57,821.98 1600.57,829.97 1602.57,835.53 1604.57,839.77 1606.57,842.17 1608.57,843.71 1610.57,844.3 1612.57,844.18 1614.57,843.91 1616.57,843.31 1618.57,842.15 1620.57,841.02 1622.57,840.15 1624.57,839.44 1626.57,839.41 1628.57,839.83 1630.57,840.49 1632.57,841.35 1634.57,842.76 1636.57,844.5 1638.57,846.34 1640.57,848.51 1642.57,850.84 1644.57,853.12 1646.57,855.24 1648.57,857.35 1650.57,859.36 1652.57,861.15 1654.57,862.84 1656.57,864.45 1658.57,865.76 1660.57,866.57 1662.57,867.15 1664.57,867.61 1666.57,867.88 1668.57,867.88 1670.57,867.58 1672.57,867.1 1674.57,866.56 1676.57,866.02 1678.57,865.35 1680.57,864.62 1682.57,863.91 1684.57,863.29 1686.57,862.68 1688.57,862.07 1690.57,861.55 1692.57,861.21 1694.57,861.06 1696.57,860.96 1698.57,860.88 1700.57,860.85 1702.57,860.99 1704.57,861.39 1706.57,861.91 1708.57,862.44 1710.57,863.06 1712.57,863.78 1714.57,864.51 1716.57,865.18 1718.57,865.86 1720.57,866.53 1722.57,867.19 1724.57,867.81 1726.57,868.37 1728.57,868.86 1730.57,869.31 1732.57,869.74 1734.57,870.14 1736.57,870.49 1738.57,870.78 1740.57,871.01 1742.57,871.2 1744.57,871.36 1746.57,871.5 1748.57,871.62 1750.57,871.73 1752.57,871.83 1754.57,871.92 1756.57,872 1758.57,872.08 1760.57,872.16 1762.57,872.23 1764.57,872.29 1766.57,872.36 1768.57,872.42 1770.57,872.48 1772.57,872.54 1774.57,872.6 1776.57,872.66 1778.57,872.72 1780.57,872.79 1782.57,872.86 1784.57,872.93 1786.57,873 1788.57,873.08 1790.57,873.17 1792.57,873.26 1794.57,873.36 1796.57,873.48 1798.57,873.6 1800.57,873.72 1802.57,873.86 1804.57,874 1806.57,874.15 1808.57,874.3 1810.57,874.45 1812.57,874.6 1814.57,874.76 1816.57,874.91 1818.57,875.06 1820.57,875.21 1822.57,875.36 1824.57,875.5 1826.57,875.63 1828.57,875.76 1830.57,875.89 1832.57,876.02 1834.57,876.14 1836.57,876.27 1838.57,876.39 1840.57,876.51 1842.57,876.64 1844.57,876.76 1846.57,876.88 1848.57,876.99 1850.57,877.11 1852.57,877.23 1854.57,877.34 1856.57,877.45 1858.57,877.57 1860.57,877.68 1862.57,877.78 1864.57,877.89 1866.57,878 1868.57,878.11 1870.57,878.21 1872.57,878.31 1874.57,878.42 1876.57,878.52 1878.57,878.62 1880.57,878.72 1882.57,878.82 1884.57,878.91 1886.57,879.01 1888.57,879.1 1890.57,879.2 1892.57,879.29 1894.57,879.38 1896.57,879.47 1898.57,879.55 1900.57,879.63 1902.57,879.71 1904.57,879.78 1906.57,879.86 1908.57,879.93 1910.57,880.01 1912.57,880.08 1914.57,880.16 1916.57,880.23 1918.57,880.31 1920.57,880.39 1922.57,880.47 1924.57,880.56 1926.57,880.65 1928.57,880.74 1930.57,880.84 1932.57,880.94 1934.57,881.04 1936.57,881.15 1938.57,881.26 1940.57,881.37 1942.57,881.48 1944.57,881.6 1946.57,881.72 1948.57,881.84 1950.57,881.97 1952.57,882.09 1954.57,882.22 1956.57,882.35 1958.57,882.49 1960.57,882.62 1962.57,882.76 1964.57,882.9 1966.57,883.04 1967.4,883.1" fill="none" stroke="#000" stroke-width="1.6" stroke-linejoin="round"/>
<rect x="1457.9" y="619.9" width="534.3" height="423.1" fill="none" stroke="#000" stroke-width="2.3"/>
<path d="M1525.8,1043v-3.2M1605.3,1043v-3.2M1684.8,1043v-3.2M1764.3,1043v-3.2M1843.8,1043v-3.2M1923.3,1043v-3.2M1457.9,1043h3.2M1457.9,993.23h3.2M1457.9,943.46h3.2M1457.9,893.69h3.2M1457.9,843.92h3.2M1457.9,794.15h3.2M1457.9,744.38h3.2M1457.9,694.61h3.2M1457.9,644.84h3.2" stroke="#000" stroke-width="2" fill="none"/>
<text x="1525.8" y="1066.67" font-size="21" text-anchor="middle">850</text>
<text x="1605.3" y="1066.67" font-size="21" text-anchor="middle">852</text>
<text x="1684.8" y="1066.67" font-size="21" text-anchor="middle">854</text>
<text x="1764.3" y="1066.67" font-size="21" text-anchor="middle">856</text>
<text x="1843.8" y="1066.67" font-size="21" text-anchor="middle">858</text>
<text x="1923.3" y="1066.67" font-size="21" text-anchor="middle">860</text>
<text x="1454.3" y="1050.92" font-size="21" text-anchor="end">0.00</text>
<text x="1454.3" y="1001.15" font-size="21" text-anchor="end">0.02</text>
<text x="1454.3" y="951.38" font-size="21" text-anchor="end">0.04</text>
<text x="1454.3" y="901.61" font-size="21" text-anchor="end">0.06</text>
<text x="1454.3" y="851.84" font-size="21" text-anchor="end">0.08</text>
<text x="1454.3" y="802.07" font-size="21" text-anchor="end">0.10</text>
<text x="1454.3" y="752.3" font-size="21" text-anchor="end">0.12</text>
<text x="1454.3" y="702.53" font-size="21" text-anchor="end">0.14</text>
<text x="1454.3" y="652.76" font-size="21" text-anchor="end">0.16</text>
<text x="1462.66" y="648.15" font-size="26.9">5th Order</text>
<line x1="1845.02" y1="639.02" x2="1900.8" y2="639.02" stroke="#F08080" stroke-width="1.5"/><circle cx="1872.91" cy="639.02" r="2.6" fill="#F08080"/><text x="1920.74" y="648.15" font-size="26.9">OCP</text>
<line x1="1845.02" y1="676.54" x2="1900.8" y2="676.54" stroke="#3CB371" stroke-width="1.5"/><circle cx="1872.91" cy="676.54" r="2.6" fill="#3CB371"/><text x="1920.74" y="686.01" font-size="26.9">1.2 V</text>
<line x1="1845.02" y1="714.07" x2="1900.8" y2="714.07" stroke="#708090" stroke-width="1.5"/><circle cx="1872.91" cy="714.07" r="2.6" fill="#708090"/><text x="1920.74" y="723.87" font-size="26.9">1.6 V</text>
<text transform="translate(1388.63,830.25) rotate(-90)" font-size="26.9" text-anchor="middle">Diffraction Intensity <tspan font-family="'DejaVu Sans',sans-serif" font-size="25.55">×</tspan> 10<tspan font-family="'DejaVu Sans',sans-serif" font-size="18.83" dy="-10.22">−2</tspan><tspan dy="10.22"> (a.u.)</tspan></text>
<text x="1725.05" y="1108.93" font-size="26.9" text-anchor="middle">Photon Energy (eV)</text>
</g>
<g>
<defs><linearGradient id="btail" x1="0" y1="0" x2="1" y2="0"><stop offset="0" stop-color="#e8603a" stop-opacity="0"/><stop offset="0.55" stop-color="#d0401c" stop-opacity="0.55"/><stop offset="1" stop-color="#3a0a00" stop-opacity="1"/></linearGradient><filter id="bblur" x="-50%" y="-100%" width="200%" height="300%"><feGaussianBlur stdDeviation="1.1 0.8"/></filter><filter id="bblur2" x="-50%" y="-100%" width="200%" height="300%"><feGaussianBlur stdDeviation="0.7 0.5"/></filter><clipPath id="bclip2"><rect x="792.5" y="0" width="10" height="500"/></clipPath></defs>
<rect x="671.1" y="30.5" width="116.6" height="460.7" fill="#FDA561"/>
<rect x="702.77" y="39.17" width="15.12" height="1.3" fill="url(#btail)" opacity="0.21"/><ellipse cx="717.39" cy="40.07" rx="2.78" ry="1.39" fill="#c23a1c" opacity="0.27" filter="url(#bblur)"/>
<rect x="697.77" y="70.66" width="23.7" height="1.3" fill="url(#btail)" opacity="0.51"/><ellipse cx="720.97" cy="71.56" rx="3.46" ry="1.73" fill="#c23a1c" opacity="0.47" filter="url(#bblur)"/><ellipse cx="721.47" cy="71.56" rx="2.56" ry="1.13" fill="#120300" opacity="0.47" filter="url(#bblur2)"/>
<rect x="707.58" y="102.14" width="14.6" height="1.3" fill="url(#btail)" opacity="0.19"/><ellipse cx="721.68" cy="103.04" rx="2.74" ry="1.37" fill="#c23a1c" opacity="0.26" filter="url(#bblur)"/>
<rect x="690.36" y="134.34" width="35.4" height="1.3" fill="url(#btail)" opacity="0.91"/><ellipse cx="725.26" cy="135.24" rx="4.39" ry="2.2" fill="#c23a1c" opacity="0.74" filter="url(#bblur)"/><ellipse cx="725.76" cy="135.24" rx="3.25" ry="1.43" fill="#120300" opacity="0.95" filter="url(#bblur2)"/>
<rect x="693.58" y="165.83" width="35.4" height="1.3" fill="url(#btail)" opacity="0.91"/><ellipse cx="728.48" cy="166.73" rx="4.39" ry="2.2" fill="#c23a1c" opacity="0.74" filter="url(#bblur)"/><ellipse cx="728.98" cy="166.73" rx="3.25" ry="1.43" fill="#120300" opacity="0.95" filter="url(#bblur2)"/>
<rect x="694.56" y="197.67" width="38" height="1.3" fill="url(#btail)" opacity="1"/><ellipse cx="732.06" cy="198.57" rx="4.6" ry="2.3" fill="#c23a1c" opacity="0.8" filter="url(#bblur)"/><ellipse cx="732.56" cy="198.57" rx="3.4" ry="1.5" fill="#120300" opacity="1" filter="url(#bblur2)"/>
<rect x="719.91" y="225.22" width="14.08" height="1.3" fill="url(#btail)" opacity="0.17"/><ellipse cx="733.49" cy="226.12" rx="2.7" ry="1.35" fill="#c23a1c" opacity="0.25" filter="url(#bblur)"/>
<rect x="732.47" y="228.44" width="15.12" height="1.3" fill="url(#btail)" opacity="0.21"/><ellipse cx="747.09" cy="229.34" rx="2.78" ry="1.39" fill="#c23a1c" opacity="0.27" filter="url(#bblur)"/>
<rect x="728.34" y="296.77" width="14.6" height="1.3" fill="url(#btail)" opacity="0.19"/><ellipse cx="742.44" cy="297.67" rx="2.74" ry="1.37" fill="#c23a1c" opacity="0.26" filter="url(#bblur)"/>
<rect x="707.08" y="323.97" width="38" height="1.3" fill="url(#btail)" opacity="1"/><ellipse cx="744.58" cy="324.87" rx="4.6" ry="2.3" fill="#c23a1c" opacity="0.8" filter="url(#bblur)"/><ellipse cx="745.08" cy="324.87" rx="3.4" ry="1.5" fill="#120300" opacity="1" filter="url(#bblur2)"/>
<rect x="713.26" y="355.45" width="35.4" height="1.3" fill="url(#btail)" opacity="0.91"/><ellipse cx="748.16" cy="356.35" rx="4.39" ry="2.2" fill="#c23a1c" opacity="0.74" filter="url(#bblur)"/><ellipse cx="748.66" cy="356.35" rx="3.25" ry="1.43" fill="#120300" opacity="0.95" filter="url(#bblur2)"/>
<rect x="718.14" y="386.94" width="34.1" height="1.3" fill="url(#btail)" opacity="0.86"/><ellipse cx="751.74" cy="387.84" rx="4.29" ry="2.14" fill="#c23a1c" opacity="0.71" filter="url(#bblur)"/><ellipse cx="752.24" cy="387.84" rx="3.17" ry="1.4" fill="#120300" opacity="0.89" filter="url(#bblur2)"/>
<rect x="739.78" y="417.7" width="14.6" height="1.3" fill="url(#btail)" opacity="0.19"/><ellipse cx="753.88" cy="418.6" rx="2.74" ry="1.37" fill="#c23a1c" opacity="0.26" filter="url(#bblur)"/>
<rect x="735.92" y="450.26" width="22.4" height="1.3" fill="url(#btail)" opacity="0.46"/><ellipse cx="757.82" cy="451.16" rx="3.36" ry="1.68" fill="#c23a1c" opacity="0.44" filter="url(#bblur)"/><ellipse cx="758.32" cy="451.16" rx="2.48" ry="1.1" fill="#120300" opacity="0.42" filter="url(#bblur2)"/>
<rect x="745.93" y="481.75" width="16.68" height="1.3" fill="url(#btail)" opacity="0.26"/><ellipse cx="762.11" cy="482.65" rx="2.9" ry="1.45" fill="#c23a1c" opacity="0.31" filter="url(#bblur)"/>
<rect x="671.1" y="30.5" width="116.6" height="460.7" fill="none" stroke="#000" stroke-width="2.5"/>
<path d="M669.9,71.8h-4.9M669.9,198.2h-4.9M669.9,324.6h-4.9M669.9,451h-4.9M699.9,492.4v4.9M757.8,492.4v4.9" stroke="#000" stroke-width="2.1" fill="none"/>
<text x="699.9" y="523.3" font-size="26" text-anchor="middle">560</text>
<text x="757.8" y="523.3" font-size="26" text-anchor="middle">580</text>
<text x="729.4" y="23.6" font-size="29.2" text-anchor="middle">OCP</text>
<rect x="805.2" y="30.5" width="115.6" height="460.7" fill="#FDA561"/>
<rect x="835.38" y="39.53" width="16.68" height="1.3" fill="url(#btail)" opacity="0.26"/><ellipse cx="851.56" cy="40.43" rx="2.9" ry="1.45" fill="#c23a1c" opacity="0.31" filter="url(#bblur)"/>
<rect x="830.86" y="71.37" width="23.7" height="1.3" fill="url(#btail)" opacity="0.51"/><ellipse cx="854.06" cy="72.27" rx="3.46" ry="1.73" fill="#c23a1c" opacity="0.47" filter="url(#bblur)"/><ellipse cx="854.56" cy="72.27" rx="2.56" ry="1.13" fill="#120300" opacity="0.47" filter="url(#bblur2)"/>
<rect x="840.48" y="103.57" width="14.08" height="1.3" fill="url(#btail)" opacity="0.17"/><ellipse cx="854.06" cy="104.47" rx="2.7" ry="1.35" fill="#c23a1c" opacity="0.25" filter="url(#bblur)"/>
<rect x="825.83" y="135.41" width="34.1" height="1.3" fill="url(#btail)" opacity="0.86"/><ellipse cx="859.43" cy="136.31" rx="4.29" ry="2.14" fill="#c23a1c" opacity="0.71" filter="url(#bblur)"/><ellipse cx="859.93" cy="136.31" rx="3.17" ry="1.4" fill="#120300" opacity="0.89" filter="url(#bblur2)"/>
<rect x="827.75" y="166.54" width="35.4" height="1.3" fill="url(#btail)" opacity="0.91"/><ellipse cx="862.65" cy="167.44" rx="4.39" ry="2.2" fill="#c23a1c" opacity="0.74" filter="url(#bblur)"/><ellipse cx="863.15" cy="167.44" rx="3.25" ry="1.43" fill="#120300" opacity="0.95" filter="url(#bblur2)"/>
<rect x="828.73" y="198.38" width="38" height="1.3" fill="url(#btail)" opacity="1"/><ellipse cx="866.23" cy="199.28" rx="4.6" ry="2.3" fill="#c23a1c" opacity="0.8" filter="url(#bblur)"/><ellipse cx="866.73" cy="199.28" rx="3.4" ry="1.5" fill="#120300" opacity="1" filter="url(#bblur2)"/>
<rect x="854.21" y="297.13" width="21.1" height="1.3" fill="url(#btail)" opacity="0.42"/><ellipse cx="874.81" cy="298.03" rx="3.25" ry="1.63" fill="#c23a1c" opacity="0.41" filter="url(#bblur)"/><ellipse cx="875.31" cy="298.03" rx="2.41" ry="1.06" fill="#120300" opacity="0.37" filter="url(#bblur2)"/>
<rect x="841.25" y="325.04" width="38" height="1.3" fill="url(#btail)" opacity="1"/><ellipse cx="878.75" cy="325.94" rx="4.6" ry="2.3" fill="#c23a1c" opacity="0.8" filter="url(#bblur)"/><ellipse cx="879.25" cy="325.94" rx="3.4" ry="1.5" fill="#120300" opacity="1" filter="url(#bblur2)"/>
<rect x="847.07" y="356.17" width="35.4" height="1.3" fill="url(#btail)" opacity="0.91"/><ellipse cx="881.97" cy="357.07" rx="4.39" ry="2.2" fill="#c23a1c" opacity="0.74" filter="url(#bblur)"/><ellipse cx="882.47" cy="357.07" rx="3.25" ry="1.43" fill="#120300" opacity="0.95" filter="url(#bblur2)"/>
<rect x="854.55" y="388.01" width="31.5" height="1.3" fill="url(#btail)" opacity="0.78"/><ellipse cx="885.55" cy="388.91" rx="4.08" ry="2.04" fill="#c23a1c" opacity="0.65" filter="url(#bblur)"/><ellipse cx="886.05" cy="388.91" rx="3.02" ry="1.33" fill="#120300" opacity="0.79" filter="url(#bblur2)"/>
<rect x="872.72" y="419.49" width="15.12" height="1.3" fill="url(#btail)" opacity="0.21"/><ellipse cx="887.34" cy="420.39" rx="2.78" ry="1.39" fill="#c23a1c" opacity="0.27" filter="url(#bblur)"/>
<rect x="870.45" y="450.62" width="22.4" height="1.3" fill="url(#btail)" opacity="0.46"/><ellipse cx="892.35" cy="451.52" rx="3.36" ry="1.68" fill="#c23a1c" opacity="0.44" filter="url(#bblur)"/><ellipse cx="892.85" cy="451.52" rx="2.48" ry="1.1" fill="#120300" opacity="0.42" filter="url(#bblur2)"/>
<rect x="878.87" y="482.11" width="17.2" height="1.3" fill="url(#btail)" opacity="0.28"/><ellipse cx="895.57" cy="483.01" rx="2.94" ry="1.47" fill="#c23a1c" opacity="0.32" filter="url(#bblur)"/>
<rect x="805.2" y="30.5" width="115.6" height="460.7" fill="none" stroke="#000" stroke-width="2.5"/>
<path d="M804,71.8h-4.9M804,198.2h-4.9M804,324.6h-4.9M804,451h-4.9M834,492.4v4.9M891.9,492.4v4.9" stroke="#000" stroke-width="2.1" fill="none"/>
<text x="834" y="523.3" font-size="26" text-anchor="middle">560</text>
<text x="891.9" y="523.3" font-size="26" text-anchor="middle">580</text>
<text x="864.2" y="23.6" font-size="29.2" text-anchor="middle">1.2 V</text>
<rect x="936.4" y="30.5" width="116" height="460.7" fill="#FDA561"/>
<rect x="959.18" y="40.6" width="22.4" height="1.3" fill="url(#btail)" opacity="0.46"/><ellipse cx="981.08" cy="41.5" rx="3.36" ry="1.68" fill="#c23a1c" opacity="0.44" filter="url(#bblur)"/><ellipse cx="981.58" cy="41.5" rx="2.48" ry="1.1" fill="#120300" opacity="0.42" filter="url(#bblur2)"/>
<rect x="959.08" y="72.45" width="25" height="1.3" fill="url(#btail)" opacity="0.55"/><ellipse cx="983.58" cy="73.35" rx="3.56" ry="1.78" fill="#c23a1c" opacity="0.5" filter="url(#bblur)"/><ellipse cx="984.08" cy="73.35" rx="2.63" ry="1.16" fill="#120300" opacity="0.53" filter="url(#bblur2)"/>
<rect x="961.23" y="103.93" width="25" height="1.3" fill="url(#btail)" opacity="0.55"/><ellipse cx="985.73" cy="104.83" rx="3.56" ry="1.78" fill="#c23a1c" opacity="0.5" filter="url(#bblur)"/><ellipse cx="986.23" cy="104.83" rx="2.63" ry="1.16" fill="#120300" opacity="0.53" filter="url(#bblur2)"/>
<rect x="953.33" y="136.49" width="35.4" height="1.3" fill="url(#btail)" opacity="0.91"/><ellipse cx="988.23" cy="137.39" rx="4.39" ry="2.2" fill="#c23a1c" opacity="0.74" filter="url(#bblur)"/><ellipse cx="988.73" cy="137.39" rx="3.25" ry="1.43" fill="#120300" opacity="0.95" filter="url(#bblur2)"/>
<rect x="965.52" y="167.97" width="25" height="1.3" fill="url(#btail)" opacity="0.55"/><ellipse cx="990.02" cy="168.87" rx="3.56" ry="1.78" fill="#c23a1c" opacity="0.5" filter="url(#bblur)"/><ellipse cx="990.52" cy="168.87" rx="2.63" ry="1.16" fill="#120300" opacity="0.53" filter="url(#bblur2)"/>
<rect x="956.81" y="199.82" width="38" height="1.3" fill="url(#btail)" opacity="1"/><ellipse cx="994.31" cy="200.72" rx="4.6" ry="2.3" fill="#c23a1c" opacity="0.8" filter="url(#bblur)"/><ellipse cx="994.81" cy="200.72" rx="3.4" ry="1.5" fill="#120300" opacity="1" filter="url(#bblur2)"/>
<rect x="981.94" y="297.85" width="21.1" height="1.3" fill="url(#btail)" opacity="0.42"/><ellipse cx="1002.54" cy="298.75" rx="3.25" ry="1.63" fill="#c23a1c" opacity="0.41" filter="url(#bblur)"/><ellipse cx="1003.04" cy="298.75" rx="2.41" ry="1.06" fill="#120300" opacity="0.37" filter="url(#bblur2)"/>
<rect x="968.62" y="326.11" width="38" height="1.3" fill="url(#btail)" opacity="1"/><ellipse cx="1006.12" cy="327.01" rx="4.6" ry="2.3" fill="#c23a1c" opacity="0.86" filter="url(#bblur)"/><ellipse cx="1006.62" cy="327.01" rx="3.91" ry="1.95" fill="#120300" opacity="1" filter="url(#bblur2)"/>
<rect x="982.47" y="357.24" width="26.3" height="1.3" fill="url(#btail)" opacity="0.6"/><ellipse cx="1008.27" cy="358.14" rx="3.67" ry="1.83" fill="#c23a1c" opacity="0.53" filter="url(#bblur)"/><ellipse cx="1008.77" cy="358.14" rx="2.71" ry="1.2" fill="#120300" opacity="0.58" filter="url(#bblur2)"/>
<rect x="978.38" y="389.44" width="35.4" height="1.3" fill="url(#btail)" opacity="0.91"/><ellipse cx="1013.28" cy="390.34" rx="4.39" ry="2.2" fill="#c23a1c" opacity="0.74" filter="url(#bblur)"/><ellipse cx="1013.78" cy="390.34" rx="3.25" ry="1.43" fill="#120300" opacity="0.95" filter="url(#bblur2)"/>
<rect x="994.24" y="420.57" width="22.4" height="1.3" fill="url(#btail)" opacity="0.46"/><ellipse cx="1016.14" cy="421.47" rx="3.36" ry="1.68" fill="#c23a1c" opacity="0.44" filter="url(#bblur)"/><ellipse cx="1016.64" cy="421.47" rx="2.48" ry="1.1" fill="#120300" opacity="0.42" filter="url(#bblur2)"/>
<rect x="997.1" y="451.69" width="22.4" height="1.3" fill="url(#btail)" opacity="0.46"/><ellipse cx="1019" cy="452.59" rx="3.36" ry="1.68" fill="#c23a1c" opacity="0.44" filter="url(#bblur)"/><ellipse cx="1019.5" cy="452.59" rx="2.48" ry="1.1" fill="#120300" opacity="0.42" filter="url(#bblur2)"/>
<rect x="998.79" y="483.89" width="25" height="1.3" fill="url(#btail)" opacity="0.55"/><ellipse cx="1023.29" cy="484.79" rx="3.56" ry="1.78" fill="#c23a1c" opacity="0.5" filter="url(#bblur)"/><ellipse cx="1023.79" cy="484.79" rx="2.63" ry="1.16" fill="#120300" opacity="0.53" filter="url(#bblur2)"/>
<rect x="936.4" y="30.5" width="116" height="460.7" fill="none" stroke="#000" stroke-width="2.5"/>
<path d="M935.2,71.8h-4.9M935.2,198.2h-4.9M935.2,324.6h-4.9M935.2,451h-4.9M965.2,492.4v4.9M1023.1,492.4v4.9" stroke="#000" stroke-width="2.1" fill="none"/>
<text x="965.2" y="523.3" font-size="26" text-anchor="middle">560</text>
<text x="1023.1" y="523.3" font-size="26" text-anchor="middle">580</text>
<text x="995.6" y="23.6" font-size="29.2" text-anchor="middle">1.6 V</text>
<text x="661" y="81.1" font-size="26" text-anchor="end">750</text>
<text x="661" y="207.5" font-size="26" text-anchor="end">600</text>
<text x="661" y="333.9" font-size="26" text-anchor="end">450</text>
<text x="661" y="460.3" font-size="26" text-anchor="end">300</text>
<g clip-path="url(#bclip2)">
<text x="795.1" y="81.1" font-size="26" text-anchor="end">750</text>
<text x="795.1" y="207.5" font-size="26" text-anchor="end">600</text>
<text x="795.1" y="333.9" font-size="26" text-anchor="end">450</text>
<text x="795.1" y="460.3" font-size="26" text-anchor="end">300</text>
</g>
<text transform="translate(586.5,256.7) rotate(-90)" font-size="29.2" text-anchor="middle">Detector<tspan font-family="DejaVu Sans,sans-serif" font-size="17.8" font-style="italic" dy="9.8">Y</tspan><tspan dy="-9.8"> (px)</tspan></text>
<text x="871" y="565.4" font-size="29.2" text-anchor="middle">Detector<tspan font-family="DejaVu Sans,sans-serif" font-size="17.8" font-style="italic" dy="9.8">X</tspan><tspan dy="-9.8"> (px)</tspan></text>
</g>
<defs><pattern id="gmesh" width="190" height="139" patternUnits="userSpaceOnUse"><path d="M-4.3,12.9L-13.2,20.4M-10.6,39.3L-8.5,43.3M-1.2,65.0L-9.0,75.1M-16.5,84.4L-3.0,80.1M-3.0,80.1L8.0,80.7M-7.9,98.4L7.3,102.9M-2.8,114.0L-6.3,119.7M17.5,-0.5L13.2,0.6M31.5,-2.6L33.7,-5.9M114.3,-1.4L118.8,-10.3M114.3,-1.4L122.4,6.9M1.8,-7.0L13.2,0.6M63.4,-10.4L76.4,-6.4M76.4,-6.4L76.0,3.6M81.3,-9.1L91.9,-11.8M91.9,-11.8L82.5,1.2M135.1,-12.6L137.0,2.1M13.2,0.6L3.5,11.1M17.5,138.5L13.2,139.6M31.5,136.4L33.7,133.1M62.7,0.7L76.0,3.6M76.0,3.6L82.5,1.2M82.5,1.2L91.5,7.6M114.3,137.6L118.8,128.7M114.3,137.6L122.4,145.9M143.6,1.6L156.8,7.0M17.8,7.1L29.3,10.5M111.4,8.5L122.4,6.9M144.7,9.8L137.2,15.6M156.8,7.0L147.6,18.8M166.7,6.7L160.8,17.7M185.7,12.9L176.8,20.4M67.5,20.2L58.6,29.7M67.5,20.2L72.6,30.5M106.4,19.9L117.6,18.7M117.6,18.7L108.7,28.4M147.6,18.8L154.9,24.6M164.6,18.7L173.3,29.1M19.5,27.0L25.0,26.6M72.6,30.5L74.2,40.0M81.3,30.2L80.5,37.8M119.8,28.7L125.9,39.8M154.9,24.6L160.1,35.6M160.7,27.9L173.3,29.1M173.3,29.1L183.2,25.4M38.9,36.4L44.2,51.8M54.3,40.1L49.9,47.8M92.1,39.2L91.2,45.0M109.4,37.4L113.4,46.2M111.8,33.7L117.2,46.6M134.9,38.4L135.1,47.4M179.4,39.3L181.5,43.3M79.6,46.8L81.9,55.9M117.2,46.6L112.9,56.6M177.5,49.9L181.5,43.3M3.5,54.8L5.4,63.6M8.5,54.7L15.3,68.2M44.2,51.8L55.5,55.1M159.6,56.9L162.1,62.0M167.6,56.8L162.1,62.0M32.6,67.6L51.8,62.8M82.0,62.6L93.1,64.6M103.0,67.2L114.5,64.9M146.3,68.0L149.4,80.1M162.1,62.0L164.5,73.7M188.8,65.0L181.0,75.1M34.9,74.1L36.2,81.4M43.6,76.3L36.2,81.4M80.1,75.6L98.4,72.0M101.6,73.3L98.5,82.0M114.6,73.8L122.3,85.2M126.0,77.6L130.1,82.2M133.8,77.6L143.8,77.5M133.8,77.6L130.1,82.2M156.9,75.9L164.5,73.7M8.0,80.7L9.8,92.4M81.2,84.1L93.3,85.0M130.1,82.2L125.5,90.3M165.9,83.4L158.6,96.4M173.5,84.4L187.0,80.1M187.0,80.1L198.0,80.7M9.8,92.4L18.0,100.3M19.1,93.3L25.2,100.1M45.8,92.7L35.8,100.1M45.8,92.7L50.5,99.2M55.7,90.2L50.5,99.2M71.3,94.4L67.7,100.7M71.3,94.4L77.9,107.7M82.7,89.7L91.3,94.9M101.3,89.2L120.1,94.9M55.5,103.6L53.4,111.9M123.0,104.4L112.4,113.6M182.1,98.4L197.3,102.9M187.2,114.0L183.7,119.7M19.0,113.1L14.5,118.1M33.5,110.3L40.8,117.0M93.9,113.6L79.2,118.6M112.4,113.6L102.6,119.5M139.8,107.6L129.0,117.4M145.0,113.5L144.5,117.0M145.0,113.5L154.0,117.5M154.3,108.3L154.0,117.5M168.9,112.8L180.2,107.6M48.0,123.7L59.8,118.8M59.8,118.8L51.9,132.6M102.6,119.5L113.5,124.2M113.5,124.2L118.8,128.7M120.2,120.7L118.8,128.7M1.8,132.0L13.2,139.6M63.4,128.6L76.4,132.6M76.4,132.6L76.0,142.6M81.3,129.9L91.9,127.2M91.9,127.2L82.5,140.2M135.1,126.4L137.0,141.1M152.2,127.3L155.1,129.6M13.2,139.6L3.5,150.1M62.7,139.7L76.0,142.6M76.0,142.6L82.5,140.2M82.5,140.2L91.5,146.6M143.6,140.6L156.8,146.0M17.8,146.1L29.3,149.5M111.4,147.5L122.4,145.9M191.8,-7.0L203.2,0.6M203.2,0.6L193.5,11.1M193.5,54.8L195.4,63.6M198.0,80.7L199.8,92.4M191.8,132.0L203.2,139.6M203.2,139.6L193.5,150.1" stroke="#6b6262" stroke-width="0.6" fill="none" opacity="0.8"/><path d="M-3.7,-2.0L-14.3,-12.9M-3.7,-2.0L-13.2,1.0M-3.7,-2.0L-11.7,10.2M-3.7,-2.0L-4.3,12.9M-3.7,-2.0L1.8,-7.0M-3.7,-2.0L13.2,0.6M-3.7,-2.0L3.5,11.1M-14.3,-12.9L1.8,-7.0M-3.7,137.0L-14.3,126.1M-3.7,137.0L-13.2,140.0M-3.7,137.0L-11.7,149.2M-3.7,137.0L-4.3,151.9M-3.7,137.0L1.8,132.0M-3.7,137.0L13.2,139.6M-3.7,137.0L3.5,150.1M-11.7,10.2L-4.3,12.9M-4.3,12.9L-6.8,25.4M-4.3,12.9L3.5,11.1M-4.3,12.9L2.5,20.8M-13.2,20.4L-6.8,25.4M-6.8,25.4L-10.6,39.3M-6.8,25.4L2.5,20.8M-6.8,25.4L4.3,26.9M-6.8,25.4L3.8,35.1M-10.6,39.3L3.8,35.1M-12.5,49.9L3.5,54.8M-8.5,43.3L3.8,35.1M-8.5,43.3L5.4,43.7M-8.5,43.3L3.5,54.8M-9.9,57.1L-1.2,65.0M-9.9,57.1L3.5,54.8M-19.0,67.2L-1.2,65.0M-1.2,65.0L-1.0,74.2M-1.2,65.0L3.5,54.8M-1.2,65.0L5.4,63.6M-1.0,74.2L-9.0,75.1M-1.0,74.2L-3.0,80.1M-1.0,74.2L5.4,63.6M-1.0,74.2L13.5,76.1M-1.0,74.2L8.0,80.7M-9.0,75.1L-3.0,80.1M-3.0,80.1L-14.3,93.4M-3.0,80.1L-7.9,98.4M-3.0,80.1L4.1,96.2M-7.9,98.4L-9.8,107.6M-7.9,98.4L4.1,96.2M-2.8,114.0L-9.8,107.6M-2.8,114.0L-11.9,119.6M-2.8,114.0L7.3,102.9M-2.8,114.0L9.1,110.6M-2.8,114.0L3.3,122.1M-9.8,107.6L7.3,102.9M-11.9,119.6L-6.3,119.7M-6.3,119.7L-14.3,126.1M-6.3,119.7L3.3,122.1M-6.3,119.7L1.8,132.0M-14.3,126.1L1.8,132.0M186.3,-2.0L175.7,-12.9M186.3,-2.0L176.8,1.0M186.3,-2.0L178.3,10.2M186.3,-2.0L185.7,12.9M186.3,-2.0L191.8,-7.0M186.3,-2.0L203.2,0.6M186.3,-2.0L193.5,11.1M17.5,-0.5L31.5,-2.6M17.5,-0.5L17.2,-11.3M17.5,-0.5L17.8,7.1M31.5,-2.6L44.3,-3.0M31.5,-2.6L17.2,-11.3M31.5,-2.6L17.8,7.1M31.5,-2.6L29.3,10.5M31.5,-2.6L38.6,11.8M44.3,-3.0L33.7,-5.9M44.3,-3.0L46.5,-12.6M44.3,-3.0L51.9,-6.4M44.3,-3.0L51.8,0.1M44.3,-3.0L38.6,11.8M44.3,-3.0L46.9,11.3M96.7,-1.6L91.9,-11.8M96.7,-1.6L105.8,-11.2M96.7,-1.6L82.5,1.2M96.7,-1.6L101.1,3.7M96.7,-1.6L91.5,7.6M114.3,-1.4L113.5,-14.8M114.3,-1.4L105.8,-11.2M114.3,-1.4L123.8,-8.3M114.3,-1.4L101.1,3.7M114.3,-1.4L103.6,7.5M114.3,-1.4L111.4,8.5M157.2,-3.2L155.1,-9.4M157.2,-3.2L164.5,-7.0M157.2,-3.2L143.6,1.6M157.2,-3.2L156.8,7.0M157.2,-3.2L166.7,6.7M1.8,-7.0L7.1,-10.6M7.1,-10.6L13.2,0.6M17.2,-11.3L33.7,-5.9M17.2,-11.3L13.2,0.6M33.7,-5.9L46.5,-12.6M46.5,-12.6L51.9,-6.4M51.9,-6.4L63.4,-10.4M51.9,-6.4L51.8,0.1M51.9,-6.4L62.7,0.7M63.4,-10.4L62.7,0.7M76.4,-6.4L81.3,-9.1M76.4,-6.4L62.7,0.7M76.4,-6.4L82.5,1.2M81.3,-9.1L82.5,1.2M105.8,-11.2L101.1,3.7M118.8,-10.3L123.8,-8.3M123.8,-8.3L135.1,-12.6M123.8,-8.3L130.1,0.7M123.8,-8.3L122.4,6.9M135.1,-12.6L130.1,0.7M135.1,-12.6L143.6,1.6M152.2,-11.7L143.6,1.6M155.1,-9.4L164.5,-7.0M155.1,-9.4L143.6,1.6M164.5,-7.0L175.7,-12.9M164.5,-7.0L170.3,3.4M164.5,-7.0L176.8,1.0M164.5,-7.0L166.7,6.7M175.7,-12.9L176.8,1.0M175.7,-12.9L191.8,-7.0M186.3,137.0L175.7,126.1M186.3,137.0L176.8,140.0M186.3,137.0L178.3,149.2M186.3,137.0L185.7,151.9M186.3,137.0L191.8,132.0M186.3,137.0L203.2,139.6M186.3,137.0L193.5,150.1M13.2,0.6L17.8,7.1M17.5,138.5L31.5,136.4M17.5,138.5L17.2,127.7M17.5,138.5L17.8,146.1M31.5,136.4L44.3,136.0M31.5,136.4L17.2,127.7M31.5,136.4L17.8,146.1M31.5,136.4L29.3,149.5M31.5,136.4L38.6,150.8M44.3,136.0L33.7,133.1M44.3,136.0L46.5,126.4M44.3,136.0L51.9,132.6M44.3,136.0L51.8,139.1M44.3,136.0L38.6,150.8M44.3,136.0L46.9,150.3M51.8,0.1L62.7,0.7M51.8,0.1L46.9,11.3M51.8,0.1L61.4,6.2M62.7,0.7L61.4,6.2M62.7,0.7L71.7,8.4M76.0,3.6L71.7,8.4M76.0,3.6L79.0,6.5M82.5,1.2L79.0,6.5M96.7,137.4L91.9,127.2M96.7,137.4L105.8,127.8M96.7,137.4L82.5,140.2M96.7,137.4L101.1,142.7M96.7,137.4L91.5,146.6M101.1,3.7L91.5,7.6M101.1,3.7L103.6,7.5M114.3,137.6L113.5,124.2M114.3,137.6L105.8,127.8M114.3,137.6L123.8,130.7M114.3,137.6L101.1,142.7M114.3,137.6L103.6,146.5M114.3,137.6L111.4,147.5M130.1,0.7L137.0,2.1M130.1,0.7L122.4,6.9M130.1,0.7L129.1,11.2M137.0,2.1L143.6,1.6M137.0,2.1L129.1,11.2M137.0,2.1L144.7,9.8M137.0,2.1L137.2,15.6M143.6,1.6L144.7,9.8M157.2,135.8L155.1,129.6M157.2,135.8L164.5,132.0M157.2,135.8L143.6,140.6M157.2,135.8L156.8,146.0M157.2,135.8L166.7,145.7M170.3,3.4L176.8,1.0M170.3,3.4L166.7,6.7M170.3,3.4L178.3,10.2M176.8,1.0L178.3,10.2M3.5,11.1L17.8,7.1M3.5,11.1L2.5,20.8M3.5,11.1L6.6,17.5M17.8,7.1L6.6,17.5M17.8,7.1L17.4,16.1M29.3,10.5L38.6,11.8M29.3,10.5L17.4,16.1M29.3,10.5L29.1,21.3M29.3,10.5L38.9,17.0M38.6,11.8L46.9,11.3M38.6,11.8L38.9,17.0M46.9,11.3L61.4,6.2M46.9,11.3L38.9,17.0M46.9,11.3L52.7,21.3M61.4,6.2L71.7,8.4M61.4,6.2L52.7,21.3M61.4,6.2L67.5,20.2M71.7,8.4L79.0,6.5M71.7,8.4L67.5,20.2M71.7,8.4L71.4,18.9M79.0,6.5L91.5,7.6M79.0,6.5L71.4,18.9M79.0,6.5L86.3,15.0M91.5,7.6L103.6,7.5M91.5,7.6L86.3,15.0M91.5,7.6L96.6,17.5M103.6,7.5L111.4,8.5M103.6,7.5L96.6,17.5M103.6,7.5L106.4,19.9M111.4,8.5L106.4,19.9M111.4,8.5L117.6,18.7M122.4,6.9L129.1,11.2M122.4,6.9L117.6,18.7M122.4,6.9L127.2,16.2M129.1,11.2L127.2,16.2M129.1,11.2L137.2,15.6M144.7,9.8L156.8,7.0M144.7,9.8L147.6,18.8M156.8,7.0L166.7,6.7M156.8,7.0L160.8,17.7M166.7,6.7L178.3,10.2M166.7,6.7L164.6,18.7M178.3,10.2L185.7,12.9M178.3,10.2L164.6,18.7M178.3,10.2L176.8,20.4M185.7,12.9L183.2,25.4M185.7,12.9L193.5,11.1M185.7,12.9L192.5,20.8M2.5,20.8L6.6,17.5M2.5,20.8L4.3,26.9M6.6,17.5L17.4,16.1M6.6,17.5L4.3,26.9M6.6,17.5L19.5,27.0M17.4,16.1L29.1,21.3M17.4,16.1L19.5,27.0M17.4,16.1L25.0,26.6M29.1,21.3L38.9,17.0M29.1,21.3L25.0,26.6M29.1,21.3L36.8,24.6M38.9,17.0L52.7,21.3M38.9,17.0L36.8,24.6M52.7,21.3L67.5,20.2M52.7,21.3L36.8,24.6M52.7,21.3L47.9,31.1M52.7,21.3L58.6,29.7M67.5,20.2L71.4,18.9M67.5,20.2L67.8,34.3M71.4,18.9L86.3,15.0M71.4,18.9L72.6,30.5M71.4,18.9L81.3,30.2M86.3,15.0L96.6,17.5M86.3,15.0L81.3,30.2M86.3,15.0L92.6,25.9M96.6,17.5L106.4,19.9M96.6,17.5L92.6,25.9M96.6,17.5L100.1,26.6M106.4,19.9L100.1,26.6M106.4,19.9L108.7,28.4M117.6,18.7L127.2,16.2M117.6,18.7L119.8,28.7M127.2,16.2L137.2,15.6M127.2,16.2L119.8,28.7M127.2,16.2L132.7,24.7M137.2,15.6L147.6,18.8M137.2,15.6L132.7,24.7M137.2,15.6L142.0,26.9M147.6,18.8L160.8,17.7M147.6,18.8L142.0,26.9M160.8,17.7L164.6,18.7M160.8,17.7L154.9,24.6M160.8,17.7L160.7,27.9M164.6,18.7L176.8,20.4M164.6,18.7L160.7,27.9M176.8,20.4L173.3,29.1M176.8,20.4L183.2,25.4M4.3,26.9L19.5,27.0M4.3,26.9L3.8,35.1M4.3,26.9L7.4,35.4M19.5,27.0L7.4,35.4M19.5,27.0L19.7,34.9M25.0,26.6L36.8,24.6M25.0,26.6L19.7,34.9M25.0,26.6L32.0,40.5M25.0,26.6L38.9,36.4M36.8,24.6L47.9,31.1M36.8,24.6L38.9,36.4M47.9,31.1L58.6,29.7M47.9,31.1L38.9,36.4M47.9,31.1L54.3,40.1M58.6,29.7L54.3,40.1M58.6,29.7L67.8,34.3M72.6,30.5L81.3,30.2M72.6,30.5L67.8,34.3M72.6,30.5L80.5,37.8M81.3,30.2L92.6,25.9M81.3,30.2L92.1,39.2M92.6,25.9L100.1,26.6M92.6,25.9L92.1,39.2M100.1,26.6L108.7,28.4M100.1,26.6L92.1,39.2M100.1,26.6L109.4,37.4M108.7,28.4L119.8,28.7M108.7,28.4L109.4,37.4M108.7,28.4L111.8,33.7M119.8,28.7L132.7,24.7M119.8,28.7L111.8,33.7M132.7,24.7L142.0,26.9M132.7,24.7L125.9,39.8M132.7,24.7L134.9,38.4M142.0,26.9L154.9,24.6M142.0,26.9L134.9,38.4M142.0,26.9L146.9,35.2M154.9,24.6L160.7,27.9M154.9,24.6L146.9,35.2M160.7,27.9L160.1,35.6M160.7,27.9L167.8,39.1M173.3,29.1L167.8,39.1M173.3,29.1L179.4,39.3M183.2,25.4L179.4,39.3M183.2,25.4L192.5,20.8M183.2,25.4L194.3,26.9M183.2,25.4L193.8,35.1M3.8,35.1L7.4,35.4M3.8,35.1L5.4,43.7M7.4,35.4L19.7,34.9M7.4,35.4L5.4,43.7M7.4,35.4L15.3,49.2M19.7,34.9L32.0,40.5M19.7,34.9L15.3,49.2M19.7,34.9L27.0,50.0M32.0,40.5L38.9,36.4M32.0,40.5L27.0,50.0M32.0,40.5L32.5,45.1M38.9,36.4L54.3,40.1M38.9,36.4L32.5,45.1M38.9,36.4L49.9,47.8M54.3,40.1L67.8,34.3M54.3,40.1L58.6,47.6M67.8,34.3L74.2,40.0M67.8,34.3L58.6,47.6M67.8,34.3L71.9,47.8M74.2,40.0L80.5,37.8M74.2,40.0L71.9,47.8M74.2,40.0L79.6,46.8M80.5,37.8L92.1,39.2M80.5,37.8L79.6,46.8M80.5,37.8L91.2,45.0M92.1,39.2L109.4,37.4M92.1,39.2L101.8,47.2M109.4,37.4L111.8,33.7M109.4,37.4L101.8,47.2M109.4,37.4L117.2,46.6M111.8,33.7L125.9,39.8M125.9,39.8L134.9,38.4M125.9,39.8L117.2,46.6M125.9,39.8L135.1,47.4M125.9,39.8L130.1,53.3M134.9,38.4L146.9,35.2M134.9,38.4L143.8,45.5M146.9,35.2L160.1,35.6M146.9,35.2L143.8,45.5M146.9,35.2L151.8,48.0M160.1,35.6L167.8,39.1M160.1,35.6L151.8,48.0M160.1,35.6L159.9,49.2M167.8,39.1L179.4,39.3M167.8,39.1L159.9,49.2M167.8,39.1L177.5,49.9M167.8,39.1L167.6,56.8M179.4,39.3L177.5,49.9M179.4,39.3L193.8,35.1M5.4,43.7L15.3,49.2M5.4,43.7L3.5,54.8M5.4,43.7L8.5,54.7M15.3,49.2L27.0,50.0M15.3,49.2L8.5,54.7M15.3,49.2L22.5,53.0M27.0,50.0L32.5,45.1M27.0,50.0L22.5,53.0M27.0,50.0L31.6,56.8M32.5,45.1L31.6,56.8M32.5,45.1L44.2,51.8M49.9,47.8L58.6,47.6M49.9,47.8L44.2,51.8M49.9,47.8L55.5,55.1M58.6,47.6L71.9,47.8M58.6,47.6L55.5,55.1M58.6,47.6L62.8,56.1M71.9,47.8L79.6,46.8M71.9,47.8L62.8,56.1M71.9,47.8L71.9,58.6M71.9,47.8L81.9,55.9M79.6,46.8L91.2,45.0M91.2,45.0L101.8,47.2M91.2,45.0L81.9,55.9M91.2,45.0L92.1,56.5M101.8,47.2L113.4,46.2M101.8,47.2L92.1,56.5M101.8,47.2L109.1,58.6M101.8,47.2L112.9,56.6M113.4,46.2L117.2,46.6M113.4,46.2L112.9,56.6M117.2,46.6L130.1,53.3M135.1,47.4L143.8,45.5M135.1,47.4L130.1,53.3M135.1,47.4L136.5,57.3M143.8,45.5L151.8,48.0M143.8,45.5L136.5,57.3M143.8,45.5L149.9,55.2M151.8,48.0L159.9,49.2M151.8,48.0L149.9,55.2M159.9,49.2L149.9,55.2M159.9,49.2L159.6,56.9M159.9,49.2L167.6,56.8M177.5,49.9L167.6,56.8M177.5,49.9L180.1,57.1M177.5,49.9L193.5,54.8M181.5,43.3L193.8,35.1M181.5,43.3L195.4,43.7M181.5,43.3L193.5,54.8M3.5,54.8L8.5,54.7M8.5,54.7L22.5,53.0M8.5,54.7L5.4,63.6M8.5,54.7L23.6,62.1M22.5,53.0L31.6,56.8M22.5,53.0L23.6,62.1M31.6,56.8L44.2,51.8M31.6,56.8L23.6,62.1M31.6,56.8L32.6,67.6M44.2,51.8L32.6,67.6M44.2,51.8L51.8,62.8M55.5,55.1L62.8,56.1M55.5,55.1L51.8,62.8M55.5,55.1L56.0,62.5M62.8,56.1L71.9,58.6M62.8,56.1L56.0,62.5M62.8,56.1L69.5,64.8M71.9,58.6L81.9,55.9M71.9,58.6L69.5,64.8M71.9,58.6L82.0,62.6M81.9,55.9L92.1,56.5M81.9,55.9L82.0,62.6M92.1,56.5L109.1,58.6M92.1,56.5L82.0,62.6M92.1,56.5L93.1,64.6M92.1,56.5L103.0,67.2M109.1,58.6L112.9,56.6M109.1,58.6L103.0,67.2M109.1,58.6L114.5,64.9M112.9,56.6L130.1,53.3M112.9,56.6L114.5,64.9M112.9,56.6L122.4,65.3M130.1,53.3L136.5,57.3M130.1,53.3L122.4,65.3M130.1,53.3L129.2,64.9M136.5,57.3L149.9,55.2M136.5,57.3L129.2,64.9M136.5,57.3L146.3,68.0M136.5,57.3L148.8,66.1M149.9,55.2L159.6,56.9M149.9,55.2L148.8,66.1M159.6,56.9L167.6,56.8M159.6,56.9L148.8,66.1M167.6,56.8L180.1,57.1M167.6,56.8L171.0,67.2M180.1,57.1L171.0,67.2M180.1,57.1L188.8,65.0M180.1,57.1L193.5,54.8M5.4,63.6L15.3,68.2M5.4,63.6L13.5,76.1M15.3,68.2L23.6,62.1M15.3,68.2L13.5,76.1M15.3,68.2L17.2,71.9M23.6,62.1L32.6,67.6M23.6,62.1L17.2,71.9M32.6,67.6L17.2,71.9M32.6,67.6L34.9,74.1M32.6,67.6L43.6,76.3M51.8,62.8L56.0,62.5M51.8,62.8L43.6,76.3M51.8,62.8L54.0,76.0M56.0,62.5L69.5,64.8M56.0,62.5L54.0,76.0M56.0,62.5L63.7,72.0M69.5,64.8L82.0,62.6M69.5,64.8L63.7,72.0M69.5,64.8L71.1,78.0M69.5,64.8L80.1,75.6M82.0,62.6L80.1,75.6M93.1,64.6L103.0,67.2M93.1,64.6L80.1,75.6M93.1,64.6L98.4,72.0M103.0,67.2L98.4,72.0M103.0,67.2L101.6,73.3M103.0,67.2L114.6,73.8M114.5,64.9L122.4,65.3M114.5,64.9L114.6,73.8M122.4,65.3L129.2,64.9M122.4,65.3L114.6,73.8M122.4,65.3L126.0,77.6M129.2,64.9L146.3,68.0M129.2,64.9L126.0,77.6M129.2,64.9L133.8,77.6M146.3,68.0L148.8,66.1M146.3,68.0L133.8,77.6M146.3,68.0L143.8,77.5M146.3,68.0L156.9,75.9M148.8,66.1L162.1,62.0M148.8,66.1L156.9,75.9M162.1,62.0L171.0,67.2M162.1,62.0L156.9,75.9M171.0,67.2L188.8,65.0M171.0,67.2L164.5,73.7M171.0,67.2L181.0,75.1M188.8,65.0L189.0,74.2M188.8,65.0L193.5,54.8M188.8,65.0L195.4,63.6M189.0,74.2L181.0,75.1M189.0,74.2L187.0,80.1M189.0,74.2L195.4,63.6M189.0,74.2L203.5,76.1M189.0,74.2L198.0,80.7M13.5,76.1L17.2,71.9M13.5,76.1L8.0,80.7M13.5,76.1L15.0,84.3M13.5,76.1L22.2,86.0M17.2,71.9L34.9,74.1M17.2,71.9L22.2,86.0M34.9,74.1L43.6,76.3M34.9,74.1L22.2,86.0M43.6,76.3L54.0,76.0M43.6,76.3L45.0,84.6M43.6,76.3L54.0,81.4M54.0,76.0L63.7,72.0M54.0,76.0L54.0,81.4M54.0,76.0L66.9,81.5M63.7,72.0L71.1,78.0M63.7,72.0L66.9,81.5M71.1,78.0L80.1,75.6M71.1,78.0L66.9,81.5M71.1,78.0L81.2,84.1M80.1,75.6L81.2,84.1M80.1,75.6L93.3,85.0M98.4,72.0L101.6,73.3M98.4,72.0L93.3,85.0M98.4,72.0L98.5,82.0M101.6,73.3L114.6,73.8M101.6,73.3L107.5,81.4M114.6,73.8L126.0,77.6M114.6,73.8L107.5,81.4M126.0,77.6L133.8,77.6M126.0,77.6L122.3,85.2M133.8,77.6L145.2,87.0M143.8,77.5L145.2,87.0M143.8,77.5L149.4,80.1M156.9,75.9L149.4,80.1M156.9,75.9L165.9,83.4M164.5,73.7L181.0,75.1M164.5,73.7L165.9,83.4M164.5,73.7L173.5,84.4M181.0,75.1L173.5,84.4M181.0,75.1L187.0,80.1M8.0,80.7L15.0,84.3M8.0,80.7L4.1,96.2M15.0,84.3L22.2,86.0M15.0,84.3L9.8,92.4M15.0,84.3L19.1,93.3M22.2,86.0L36.2,81.4M22.2,86.0L19.1,93.3M22.2,86.0L29.1,92.9M36.2,81.4L45.0,84.6M36.2,81.4L29.1,92.9M36.2,81.4L45.8,92.7M45.0,84.6L54.0,81.4M45.0,84.6L45.8,92.7M45.0,84.6L55.7,90.2M54.0,81.4L66.9,81.5M54.0,81.4L55.7,90.2M66.9,81.5L81.2,84.1M66.9,81.5L55.7,90.2M66.9,81.5L66.7,89.7M81.2,84.1L66.7,89.7M81.2,84.1L71.3,94.4M81.2,84.1L82.7,89.7M93.3,85.0L98.5,82.0M93.3,85.0L82.7,89.7M93.3,85.0L91.3,94.9M93.3,85.0L101.3,89.2M98.5,82.0L107.5,81.4M98.5,82.0L101.3,89.2M107.5,81.4L122.3,85.2M107.5,81.4L101.3,89.2M107.5,81.4L120.1,94.9M122.3,85.2L130.1,82.2M122.3,85.2L120.1,94.9M122.3,85.2L125.5,90.3M130.1,82.2L145.2,87.0M130.1,82.2L140.5,94.9M145.2,87.0L149.4,80.1M145.2,87.0L140.5,94.9M145.2,87.0L149.3,92.9M149.4,80.1L165.9,83.4M149.4,80.1L149.3,92.9M165.9,83.4L173.5,84.4M165.9,83.4L149.3,92.9M165.9,83.4L169.1,89.4M173.5,84.4L169.1,89.4M173.5,84.4L175.7,93.4M187.0,80.1L175.7,93.4M187.0,80.1L182.1,98.4M187.0,80.1L194.1,96.2M4.1,96.2L9.8,92.4M4.1,96.2L7.3,102.9M9.8,92.4L19.1,93.3M9.8,92.4L7.3,102.9M19.1,93.3L29.1,92.9M19.1,93.3L18.0,100.3M29.1,92.9L45.8,92.7M29.1,92.9L25.2,100.1M29.1,92.9L35.8,100.1M45.8,92.7L55.7,90.2M55.7,90.2L66.7,89.7M55.7,90.2L55.5,103.6M55.7,90.2L67.7,100.7M66.7,89.7L71.3,94.4M66.7,89.7L67.7,100.7M71.3,94.4L82.7,89.7M71.3,94.4L83.4,105.0M71.3,94.4L87.2,99.3M82.7,89.7L87.2,99.3M91.3,94.9L101.3,89.2M91.3,94.9L87.2,99.3M91.3,94.9L100.2,102.5M101.3,89.2L100.2,102.5M101.3,89.2L109.5,102.6M120.1,94.9L125.5,90.3M120.1,94.9L109.5,102.6M120.1,94.9L123.0,104.4M120.1,94.9L129.7,103.1M125.5,90.3L140.5,94.9M125.5,90.3L129.7,103.1M125.5,90.3L138.6,98.5M140.5,94.9L149.3,92.9M140.5,94.9L138.6,98.5M140.5,94.9L149.1,98.9M149.3,92.9L158.6,96.4M149.3,92.9L149.1,98.9M158.6,96.4L169.1,89.4M158.6,96.4L149.1,98.9M158.6,96.4L166.1,100.9M158.6,96.4L154.3,108.3M169.1,89.4L175.7,93.4M169.1,89.4L166.1,100.9M175.7,93.4L166.1,100.9M175.7,93.4L174.1,101.6M175.7,93.4L182.1,98.4M7.3,102.9L18.0,100.3M7.3,102.9L9.1,110.6M18.0,100.3L25.2,100.1M18.0,100.3L9.1,110.6M18.0,100.3L19.0,113.1M25.2,100.1L35.8,100.1M25.2,100.1L19.0,113.1M25.2,100.1L33.5,110.3M35.8,100.1L50.5,99.2M35.8,100.1L33.5,110.3M35.8,100.1L42.3,110.4M50.5,99.2L55.5,103.6M50.5,99.2L42.3,110.4M50.5,99.2L53.4,111.9M55.5,103.6L67.7,100.7M55.5,103.6L64.0,114.3M67.7,100.7L64.0,114.3M67.7,100.7L77.9,107.7M83.4,105.0L87.2,99.3M83.4,105.0L77.9,107.7M83.4,105.0L83.4,107.6M83.4,105.0L93.9,113.6M87.2,99.3L100.2,102.5M87.2,99.3L93.9,113.6M100.2,102.5L109.5,102.6M100.2,102.5L93.9,113.6M100.2,102.5L107.1,111.7M109.5,102.6L123.0,104.4M109.5,102.6L107.1,111.7M109.5,102.6L112.4,113.6M123.0,104.4L129.7,103.1M123.0,104.4L127.7,109.7M129.7,103.1L138.6,98.5M129.7,103.1L127.7,109.7M129.7,103.1L139.8,107.6M138.6,98.5L149.1,98.9M138.6,98.5L139.8,107.6M149.1,98.9L139.8,107.6M149.1,98.9L154.3,108.3M166.1,100.9L174.1,101.6M166.1,100.9L154.3,108.3M166.1,100.9L168.9,112.8M174.1,101.6L182.1,98.4M174.1,101.6L168.9,112.8M174.1,101.6L180.2,107.6M182.1,98.4L180.2,107.6M182.1,98.4L194.1,96.2M187.2,114.0L180.2,107.6M187.2,114.0L178.1,119.6M187.2,114.0L197.3,102.9M187.2,114.0L199.1,110.6M187.2,114.0L193.3,122.1M9.1,110.6L19.0,113.1M9.1,110.6L3.3,122.1M9.1,110.6L14.5,118.1M19.0,113.1L33.5,110.3M19.0,113.1L22.0,118.6M33.5,110.3L42.3,110.4M33.5,110.3L22.0,118.6M42.3,110.4L53.4,111.9M42.3,110.4L40.8,117.0M53.4,111.9L64.0,114.3M53.4,111.9L40.8,117.0M53.4,111.9L48.0,123.7M53.4,111.9L59.8,118.8M64.0,114.3L77.9,107.7M64.0,114.3L59.8,118.8M64.0,114.3L69.9,117.5M77.9,107.7L83.4,107.6M77.9,107.7L69.9,117.5M77.9,107.7L79.2,118.6M83.4,107.6L93.9,113.6M83.4,107.6L79.2,118.6M93.9,113.6L107.1,111.7M93.9,113.6L93.1,123.3M93.9,113.6L102.6,119.5M107.1,111.7L112.4,113.6M107.1,111.7L102.6,119.5M112.4,113.6L127.7,109.7M112.4,113.6L113.5,124.2M112.4,113.6L120.2,120.7M127.7,109.7L139.8,107.6M127.7,109.7L120.2,120.7M127.7,109.7L129.0,117.4M139.8,107.6L145.0,113.5M139.8,107.6L154.3,108.3M139.8,107.6L144.5,117.0M145.0,113.5L154.3,108.3M154.3,108.3L168.9,112.8M168.9,112.8L154.0,117.5M168.9,112.8L165.1,122.4M168.9,112.8L178.1,119.6M180.2,107.6L178.1,119.6M180.2,107.6L197.3,102.9M3.3,122.1L14.5,118.1M3.3,122.1L1.8,132.0M3.3,122.1L7.1,128.4M14.5,118.1L22.0,118.6M14.5,118.1L7.1,128.4M14.5,118.1L17.2,127.7M22.0,118.6L40.8,117.0M22.0,118.6L17.2,127.7M22.0,118.6L33.7,133.1M40.8,117.0L48.0,123.7M40.8,117.0L33.7,133.1M40.8,117.0L46.5,126.4M48.0,123.7L46.5,126.4M48.0,123.7L51.9,132.6M59.8,118.8L69.9,117.5M59.8,118.8L63.4,128.6M69.9,117.5L79.2,118.6M69.9,117.5L63.4,128.6M69.9,117.5L76.4,132.6M79.2,118.6L93.1,123.3M79.2,118.6L76.4,132.6M79.2,118.6L81.3,129.9M79.2,118.6L91.9,127.2M93.1,123.3L102.6,119.5M93.1,123.3L91.9,127.2M93.1,123.3L105.8,127.8M102.6,119.5L105.8,127.8M113.5,124.2L120.2,120.7M113.5,124.2L105.8,127.8M120.2,120.7L129.0,117.4M120.2,120.7L123.8,130.7M129.0,117.4L144.5,117.0M129.0,117.4L123.8,130.7M129.0,117.4L135.1,126.4M144.5,117.0L154.0,117.5M144.5,117.0L135.1,126.4M144.5,117.0L152.2,127.3M154.0,117.5L165.1,122.4M154.0,117.5L152.2,127.3M154.0,117.5L155.1,129.6M165.1,122.4L178.1,119.6M165.1,122.4L155.1,129.6M165.1,122.4L164.5,132.0M165.1,122.4L175.7,126.1M178.1,119.6L183.7,119.7M178.1,119.6L175.7,126.1M183.7,119.7L175.7,126.1M183.7,119.7L193.3,122.1M183.7,119.7L191.8,132.0M1.8,132.0L7.1,128.4M7.1,128.4L17.2,127.7M7.1,128.4L13.2,139.6M17.2,127.7L33.7,133.1M17.2,127.7L13.2,139.6M33.7,133.1L46.5,126.4M46.5,126.4L51.9,132.6M51.9,132.6L63.4,128.6M51.9,132.6L51.8,139.1M51.9,132.6L62.7,139.7M63.4,128.6L62.7,139.7M76.4,132.6L81.3,129.9M76.4,132.6L62.7,139.7M76.4,132.6L82.5,140.2M81.3,129.9L82.5,140.2M91.9,127.2L105.8,127.8M105.8,127.8L101.1,142.7M118.8,128.7L123.8,130.7M123.8,130.7L135.1,126.4M123.8,130.7L130.1,139.7M123.8,130.7L122.4,145.9M135.1,126.4L152.2,127.3M135.1,126.4L130.1,139.7M135.1,126.4L143.6,140.6M152.2,127.3L143.6,140.6M155.1,129.6L164.5,132.0M155.1,129.6L143.6,140.6M164.5,132.0L175.7,126.1M164.5,132.0L170.3,142.4M164.5,132.0L176.8,140.0M164.5,132.0L166.7,145.7M175.7,126.1L176.8,140.0M175.7,126.1L191.8,132.0M13.2,139.6L17.8,146.1M51.8,139.1L62.7,139.7M51.8,139.1L46.9,150.3M51.8,139.1L61.4,145.2M62.7,139.7L61.4,145.2M62.7,139.7L71.7,147.4M76.0,142.6L71.7,147.4M76.0,142.6L79.0,145.5M82.5,140.2L79.0,145.5M101.1,142.7L91.5,146.6M101.1,142.7L103.6,146.5M130.1,139.7L137.0,141.1M130.1,139.7L122.4,145.9M130.1,139.7L129.1,150.2M137.0,141.1L143.6,140.6M137.0,141.1L129.1,150.2M137.0,141.1L144.7,148.8M137.0,141.1L137.2,154.6M143.6,140.6L144.7,148.8M170.3,142.4L176.8,140.0M170.3,142.4L166.7,145.7M170.3,142.4L178.3,149.2M176.8,140.0L178.3,149.2M3.5,150.1L17.8,146.1M46.9,150.3L61.4,145.2M61.4,145.2L71.7,147.4M71.7,147.4L79.0,145.5M79.0,145.5L91.5,146.6M91.5,146.6L103.6,146.5M103.6,146.5L111.4,147.5M122.4,145.9L129.1,150.2M144.7,148.8L156.8,146.0M156.8,146.0L166.7,145.7M166.7,145.7L178.3,149.2M191.8,-7.0L197.1,-10.6M197.1,-10.6L203.2,0.6M193.5,11.1L192.5,20.8M193.5,11.1L196.6,17.5M192.5,20.8L196.6,17.5M192.5,20.8L194.3,26.9M196.6,17.5L194.3,26.9M194.3,26.9L193.8,35.1M194.3,26.9L197.4,35.4M193.8,35.1L197.4,35.4M193.8,35.1L195.4,43.7M197.4,35.4L195.4,43.7M195.4,43.7L205.3,49.2M195.4,43.7L193.5,54.8M195.4,43.7L198.5,54.7M193.5,54.8L198.5,54.7M198.5,54.7L195.4,63.6M195.4,63.6L205.3,68.2M195.4,63.6L203.5,76.1M198.0,80.7L194.1,96.2M194.1,96.2L199.8,92.4M194.1,96.2L197.3,102.9M199.8,92.4L197.3,102.9M197.3,102.9L199.1,110.6M199.1,110.6L193.3,122.1M193.3,122.1L204.5,118.1M193.3,122.1L191.8,132.0M193.3,122.1L197.1,128.4M191.8,132.0L197.1,128.4M197.1,128.4L203.2,139.6" stroke="#6b6262" stroke-width="0.6" fill="none" opacity="0.8" stroke-dasharray="1.6 1.8"/></pattern></defs>
<g>
<rect x="88.1" y="1153.4" width="568.5" height="41.9" fill="#F3F2EE"/>
<rect x="88.1" y="1195.3" width="568.5" height="181.6" fill="#AAE2D5"/>
<rect x="88.1" y="1376.9" width="568.5" height="54.2" fill="#FCA0AB"/>
<path d="M209.6,1376.9L211,1237.4A13.5,13.5 0 0 1 224.5,1223.9L519.9,1223.9A13.5,13.5 0 0 1 533.4,1237.4L534.8,1376.9Z" fill="#862B12"/>
<path d="M221.7,1376.9L223.1,1245.4A9.5,9.5 0 0 1 232.6,1235.9L511.8,1235.9A9.5,9.5 0 0 1 521.3,1245.4L522.7,1376.9Z" fill="#DECC7E"/>
<rect x="0" y="0" width="568.5" height="277.7" fill="url(#gmesh)" transform="translate(88.1,1153.4)"/>
<path d="M209.6,1376.9L211,1237.4A13.5,13.5 0 0 1 224.5,1223.9L519.9,1223.9A13.5,13.5 0 0 1 533.4,1237.4L534.8,1376.9ZM221.7,1376.9L223.1,1245.4A9.5,9.5 0 0 1 232.6,1235.9L511.8,1235.9A9.5,9.5 0 0 1 521.3,1245.4L522.7,1376.9Z" fill-rule="evenodd" fill="#862B12" opacity="0.8"/>
<rect x="88.1" y="1153.4" width="568.5" height="277.7" fill="none" stroke="#000" stroke-width="2.7"/>
<path d="M158.75,1430.1v-3.4M230,1430.1v-3.4M301.25,1430.1v-3.4M372.5,1430.1v-3.4M443.75,1430.1v-3.4M515,1430.1v-3.4M586.25,1430.1v-3.4M89.1,1376.9h3.4M89.1,1319.9h3.4M89.1,1262.9h3.4M89.1,1205.9h3.4" stroke="#000" stroke-width="2" fill="none"/>
<text x="153.15" y="1456.6" font-size="22.3" text-anchor="middle">−75</text>
<text x="224.4" y="1456.6" font-size="22.3" text-anchor="middle">−50</text>
<text x="295.65" y="1456.6" font-size="22.3" text-anchor="middle">−25</text>
<text x="366.4" y="1456.6" font-size="22.3" text-anchor="middle">0</text>
<text x="437.75" y="1456.6" font-size="22.3" text-anchor="middle">25</text>
<text x="509" y="1456.6" font-size="22.3" text-anchor="middle">50</text>
<text x="580.25" y="1456.6" font-size="22.3" text-anchor="middle">75</text>
<text x="78.1" y="1390.5" font-size="22.3" text-anchor="end">0</text>
<text x="78.1" y="1333.5" font-size="22.3" text-anchor="end">20</text>
<text x="78.1" y="1276.5" font-size="22.3" text-anchor="end">40</text>
<text x="78.1" y="1219.5" font-size="22.3" text-anchor="end">60</text>
<text x="579.6" y="1188.4" font-size="33">OCP</text>
<text x="373.1" y="1501.6" font-size="28.5" text-anchor="middle">Length<tspan font-family="DejaVu Sans,sans-serif" font-size="19.8" font-style="italic" dy="4.5">X</tspan><tspan dy="-4.5"> (nm)</tspan></text>
<text transform="translate(26.1,1291) rotate(-90)" font-size="28.5" text-anchor="middle">Length<tspan font-family="DejaVu Sans,sans-serif" font-size="19.8" font-style="italic" dy="4.5">Y</tspan><tspan dy="-4.5"> (nm)</tspan></text>
</g>
<g>
<rect x="759.4" y="1152.3" width="568.5" height="42.6" fill="#F3F2EE"/>
<rect x="759.4" y="1194.9" width="568.5" height="183" fill="#AAE2D5"/>
<rect x="759.4" y="1377.9" width="568.5" height="53.2" fill="#FCA0AB"/>
<path d="M880.8,1377.9L882.2,1236.5A13.5,13.5 0 0 1 895.7,1223L1190.5,1223A13.5,13.5 0 0 1 1204,1236.5L1205.4,1377.9Z" fill="#4B3B9A"/>
<path d="M891.5,1377.9L892.9,1243.8A9.5,9.5 0 0 1 902.4,1234.3L1183.8,1234.3A9.5,9.5 0 0 1 1193.3,1243.8L1194.7,1377.9Z" fill="#DECC7E"/>
<rect x="0" y="0" width="568.5" height="278.8" fill="url(#gmesh)" transform="translate(759.4,1152.3)"/>
<path d="M880.8,1377.9L882.2,1236.5A13.5,13.5 0 0 1 895.7,1223L1190.5,1223A13.5,13.5 0 0 1 1204,1236.5L1205.4,1377.9ZM891.5,1377.9L892.9,1243.8A9.5,9.5 0 0 1 902.4,1234.3L1183.8,1234.3A9.5,9.5 0 0 1 1193.3,1243.8L1194.7,1377.9Z" fill-rule="evenodd" fill="#4B3B9A" opacity="0.8"/>
<rect x="759.4" y="1152.3" width="568.5" height="278.8" fill="none" stroke="#000" stroke-width="2.7"/>
<path d="M828.18,1430.1v-3.4M899.75,1430.1v-3.4M971.33,1430.1v-3.4M1042.9,1430.1v-3.4M1114.48,1430.1v-3.4M1186.05,1430.1v-3.4M1257.62,1430.1v-3.4M760.4,1377.9h3.4M760.4,1320.64h3.4M760.4,1263.38h3.4M760.4,1206.12h3.4" stroke="#000" stroke-width="2" fill="none"/>
<text x="822.58" y="1456.6" font-size="22.3" text-anchor="middle">−75</text>
<text x="894.15" y="1456.6" font-size="22.3" text-anchor="middle">−50</text>
<text x="965.73" y="1456.6" font-size="22.3" text-anchor="middle">−25</text>
<text x="1036.8" y="1456.6" font-size="22.3" text-anchor="middle">0</text>
<text x="1108.48" y="1456.6" font-size="22.3" text-anchor="middle">25</text>
<text x="1180.05" y="1456.6" font-size="22.3" text-anchor="middle">50</text>
<text x="1251.62" y="1456.6" font-size="22.3" text-anchor="middle">75</text>
<text x="749.4" y="1391.5" font-size="22.3" text-anchor="end">0</text>
<text x="749.4" y="1334.24" font-size="22.3" text-anchor="end">20</text>
<text x="749.4" y="1276.98" font-size="22.3" text-anchor="end">40</text>
<text x="749.4" y="1219.72" font-size="22.3" text-anchor="end">60</text>
<text x="1237.2" y="1188.4" font-size="33">1.2 V</text>
<text x="1043.5" y="1501.6" font-size="28.5" text-anchor="middle">Length<tspan font-family="DejaVu Sans,sans-serif" font-size="19.8" font-style="italic" dy="4.5">X</tspan><tspan dy="-4.5"> (nm)</tspan></text>
<text transform="translate(697.4,1291) rotate(-90)" font-size="28.5" text-anchor="middle">Length<tspan font-family="DejaVu Sans,sans-serif" font-size="19.8" font-style="italic" dy="4.5">Y</tspan><tspan dy="-4.5"> (nm)</tspan></text>
</g>
<g>
<rect x="1427.6" y="1153" width="565.5" height="42.3" fill="#F3F2EE"/>
<rect x="1427.6" y="1195.3" width="565.5" height="182.2" fill="#AAE2D5"/>
<rect x="1427.6" y="1377.5" width="565.5" height="53.6" fill="#FCA0AB"/>
<path d="M1539.2,1377.5L1540.6,1238A14,14 0 0 1 1554.6,1224L1866,1224A14,14 0 0 1 1880,1238L1881.4,1377.5Z" fill="#232D36"/>
<path d="M1556.9,1377.5L1558.3,1250.8A9,9 0 0 1 1567.3,1241.8L1853.2,1241.8A9,9 0 0 1 1862.2,1250.8L1863.6,1377.5Z" fill="#DECC7E"/>
<rect x="0" y="0" width="565.5" height="278.1" fill="url(#gmesh)" transform="translate(1427.6,1153)"/>
<path d="M1539.2,1377.5L1540.6,1238A14,14 0 0 1 1554.6,1224L1866,1224A14,14 0 0 1 1880,1238L1881.4,1377.5ZM1556.9,1377.5L1558.3,1250.8A9,9 0 0 1 1567.3,1241.8L1853.2,1241.8A9,9 0 0 1 1862.2,1250.8L1863.6,1377.5Z" fill-rule="evenodd" fill="#232D36" opacity="0.8"/>
<rect x="1427.6" y="1153" width="565.5" height="278.1" fill="none" stroke="#000" stroke-width="2.7"/>
<path d="M1498.08,1430.1v-3.4M1568.95,1430.1v-3.4M1639.83,1430.1v-3.4M1710.7,1430.1v-3.4M1781.58,1430.1v-3.4M1852.45,1430.1v-3.4M1923.33,1430.1v-3.4M1428.6,1377.5h3.4M1428.6,1320.8h3.4M1428.6,1264.1h3.4M1428.6,1207.4h3.4" stroke="#000" stroke-width="2" fill="none"/>
<text x="1492.48" y="1456.6" font-size="22.3" text-anchor="middle">−75</text>
<text x="1563.35" y="1456.6" font-size="22.3" text-anchor="middle">−50</text>
<text x="1634.23" y="1456.6" font-size="22.3" text-anchor="middle">−25</text>
<text x="1704.6" y="1456.6" font-size="22.3" text-anchor="middle">0</text>
<text x="1775.58" y="1456.6" font-size="22.3" text-anchor="middle">25</text>
<text x="1846.45" y="1456.6" font-size="22.3" text-anchor="middle">50</text>
<text x="1917.33" y="1456.6" font-size="22.3" text-anchor="middle">75</text>
<text x="1417.6" y="1391.1" font-size="22.3" text-anchor="end">0</text>
<text x="1417.6" y="1334.4" font-size="22.3" text-anchor="end">20</text>
<text x="1417.6" y="1277.7" font-size="22.3" text-anchor="end">40</text>
<text x="1417.6" y="1221" font-size="22.3" text-anchor="end">60</text>
<text x="1896.3" y="1188.4" font-size="33">1.6 V</text>
<text x="1711.3" y="1501.6" font-size="28.5" text-anchor="middle">Length<tspan font-family="DejaVu Sans,sans-serif" font-size="19.8" font-style="italic" dy="4.5">X</tspan><tspan dy="-4.5"> (nm)</tspan></text>
<text transform="translate(1365.6,1291) rotate(-90)" font-size="28.5" text-anchor="middle">Length<tspan font-family="DejaVu Sans,sans-serif" font-size="19.8" font-style="italic" dy="4.5">Y</tspan><tspan dy="-4.5"> (nm)</tspan></text>
</g>
<g>
<rect x="399.5" y="1548.6" width="23" height="23.2" fill="#F3F2EE"/>
<text x="483.6" y="1574.6" font-size="40.6">vacuum</text>
<rect x="780.8" y="1554.3" width="21.3" height="21.8" fill="#AAE2D5"/>
<text x="857.6" y="1578.2" font-size="37.2">H<tspan font-family="DejaVu Sans,sans-serif" font-size="26" dy="6.3">2</tspan><tspan dy="-6.3">O</tspan></text>
<rect x="1083" y="1553.8" width="22.5" height="22.8" fill="#FCA0AB"/>
<text x="1164.4" y="1578.2" font-size="38.5">SiN<tspan font-family="DejaVu Sans,sans-serif" font-size="26.5" font-style="italic" dy="6.6">x</tspan></text>
<rect x="1389.1" y="1553.9" width="21.6" height="22.3" fill="#DECC7E"/>
<text x="1467.6" y="1579" font-size="38.4">Ni metal</text>
<rect x="322.1" y="1625.7" width="21.1" height="21" fill="#862B12"/>
<text x="397.8" y="1649" font-size="36">Oxidized Ni at OCP</text>
<rect x="840.2" y="1625.3" width="19.9" height="19.5" fill="#4B3B9A"/>
<text x="913.4" y="1648" font-size="35">Oxidized Ni at 1.2V</text>
<rect x="1338.3" y="1628.4" width="19.8" height="19.2" fill="#232D36"/>
<text x="1409.2" y="1649.5" font-size="34.5">Oxidized Ni at 1.6V</text>
</g>
<g>
<defs><clipPath id="semclip"><rect x="40.1" y="254.6" width="438.3" height="270"/></clipPath><linearGradient id="semtop" gradientUnits="userSpaceOnUse" x1="0" y1="254.6" x2="0" y2="460"><stop offset="0" stop-color="#a6a6a6"/><stop offset="0.3" stop-color="#a4a4a4"/><stop offset="0.6" stop-color="#9a9a9a"/><stop offset="0.85" stop-color="#8a8a8a"/><stop offset="1" stop-color="#6c6c6c"/></linearGradient><linearGradient id="semstreak" gradientUnits="userSpaceOnUse" x1="0" y1="254.6" x2="0" y2="450"><stop offset="0" stop-color="#bcbcbc" stop-opacity="0.2"/><stop offset="0.3" stop-color="#c0c0c0" stop-opacity="0.7"/><stop offset="0.8" stop-color="#bababa" stop-opacity="0.8"/><stop offset="1" stop-color="#a0a0a0" stop-opacity="0.2"/></linearGradient><linearGradient id="semdark" gradientUnits="userSpaceOnUse" x1="0" y1="254.6" x2="0" y2="450"><stop offset="0" stop-color="#8c8c8c" stop-opacity="0"/><stop offset="0.3" stop-color="#868686" stop-opacity="0.25"/><stop offset="0.7" stop-color="#808080" stop-opacity="0.45"/><stop offset="1" stop-color="#747474" stop-opacity="0.55"/></linearGradient><filter id="semb1" x="-30%" y="-30%" width="160%" height="160%"><feGaussianBlur stdDeviation="5"/></filter><filter id="semb2" x="-30%" y="-30%" width="160%" height="160%"><feGaussianBlur stdDeviation="2"/></filter><filter id="semb4" x="-50%" y="-50%" width="200%" height="200%"><feGaussianBlur stdDeviation="3.2"/></filter><filter id="semb3" x="-30%" y="-30%" width="160%" height="160%"><feGaussianBlur stdDeviation="0.9"/></filter><filter id="semnoise" x="0" y="0" width="100%" height="100%"><feTurbulence type="fractalNoise" baseFrequency="0.8" numOctaves="2" seed="4"/><feColorMatrix type="matrix" values="0 0 0 0 0  0 0 0 0 0  0 0 0 0 0  1.6 0 0 0 -0.6"/></filter><filter id="semnoise2" x="0" y="0" width="100%" height="100%"><feTurbulence type="fractalNoise" baseFrequency="0.8" numOctaves="2" seed="11"/><feColorMatrix type="matrix" values="0 0 0 0 1  0 0 0 0 1  0 0 0 0 1  1.6 0 0 0 -0.6"/></filter></defs>
<g clip-path="url(#semclip)">
<rect x="40.1" y="254.6" width="438.3" height="270" fill="url(#semtop)"/>
<polygon points="-71.26,428.64 -41.26,428.64 64.74,244.6 18.74,244.6" fill="url(#semdark)" filter="url(#semb1)"/>
<polygon points="-2.26,428.64 27.74,428.64 133.74,244.6 87.74,244.6" fill="url(#semdark)" filter="url(#semb1)"/>
<polygon points="66.74,428.64 96.74,428.64 202.74,244.6 156.74,244.6" fill="url(#semdark)" filter="url(#semb1)"/>
<polygon points="135.95,429.89 165.95,429.89 271.95,244.6 225.95,244.6" fill="url(#semdark)" filter="url(#semb1)"/>
<polygon points="204.91,431.15 234.91,431.15 340.91,244.6 294.91,244.6" fill="url(#semdark)" filter="url(#semb1)"/>
<polygon points="273.86,432.15 303.86,432.15 409.86,244.6 363.86,244.6" fill="url(#semdark)" filter="url(#semb1)"/>
<polygon points="342.07,433.15 372.07,433.15 478.07,244.6 432.07,244.6" fill="url(#semdark)" filter="url(#semb1)"/>
<polygon points="410.27,434.16 440.27,434.16 546.27,244.6 500.27,244.6" fill="url(#semdark)" filter="url(#semb1)"/>
<polygon points="-31.26,441.64 -11.26,441.64 94.74,249.6 60.74,249.6" fill="url(#semstreak)" opacity="0.75" filter="url(#semb1)"/>
<polygon points="37.74,441.64 57.74,441.64 163.74,249.6 129.74,249.6" fill="url(#semstreak)" opacity="0.75" filter="url(#semb1)"/>
<polygon points="106.74,441.64 126.74,441.64 232.74,249.6 198.74,249.6" fill="url(#semstreak)" opacity="0.75" filter="url(#semb1)"/>
<polygon points="175.95,442.89 195.95,442.89 301.95,249.6 267.95,249.6" fill="url(#semstreak)" opacity="0.75" filter="url(#semb1)"/>
<polygon points="244.91,444.15 264.91,444.15 370.91,249.6 336.91,249.6" fill="url(#semstreak)" opacity="0.75" filter="url(#semb1)"/>
<polygon points="313.86,445.15 333.86,445.15 439.86,249.6 405.86,249.6" fill="url(#semstreak)" opacity="0.75" filter="url(#semb1)"/>
<polygon points="382.07,446.15 402.07,446.15 508.07,249.6 474.07,249.6" fill="url(#semstreak)" opacity="0.75" filter="url(#semb1)"/>
<polygon points="450.27,447.16 470.27,447.16 576.27,249.6 542.27,249.6" fill="url(#semstreak)" opacity="0.75" filter="url(#semb1)"/>
<polygon points="35.1,438.09 483.4,444.36 483.4,460.66 35.1,454.39" fill="#5a5a5a" opacity="0.85" filter="url(#semb2)"/>
<polygon points="40.1,453.14 478.4,460.16 478.4,481.98 40.1,474.45" fill="#6e6e6e"/>
<polygon points="40.1,469.44 478.4,476.21 478.4,481.22 40.1,474.45" fill="#7c7c7c" opacity="0.7" filter="url(#semb3)"/>
<polygon points="40.1,474.45 478.4,481.22 478.4,526.6 40.1,526.6" fill="#4a4a4a"/>
<ellipse cx="88.74" cy="403.64" rx="10" ry="10" fill="#666" opacity="0.55" filter="url(#semb2)"/>
<ellipse cx="96.74" cy="389.64" rx="9" ry="9" fill="#666" opacity="0.4" filter="url(#semb2)"/>
<ellipse cx="104.74" cy="375.64" rx="7" ry="7" fill="#666" opacity="0.25" filter="url(#semb2)"/>
<path d="M62.74,452.64L65.74,437.64C68.74,421.64 73.74,408.64 83.74,406.64C93.74,406.64 97.74,421.64 99.74,437.64L101.74,452.64Z" fill="#5e5e5e" opacity="0.85" filter="url(#semb2)"/>
<ellipse cx="81.74" cy="441.64" rx="11" ry="2" fill="#404040" opacity="0.35" filter="url(#semb3)"/>
<ellipse cx="82.54" cy="433.64" rx="10" ry="2" fill="#404040" opacity="0.35" filter="url(#semb3)"/>
<ellipse cx="83.34" cy="425.64" rx="8.5" ry="2" fill="#404040" opacity="0.35" filter="url(#semb3)"/>
<ellipse cx="84.14" cy="417.64" rx="6.5" ry="2" fill="#404040" opacity="0.35" filter="url(#semb3)"/>
<path d="M100.74,453.64C99.74,439.64 96.74,427.64 91.74,417.64" fill="none" stroke="#909090" stroke-width="1.5" opacity="0.6" filter="url(#semb3)"/>
<path d="M62.74,453.64C63.74,443.64 65.74,435.64 69.74,427.64" fill="none" stroke="#909090" stroke-width="1.3" opacity="0.5" filter="url(#semb3)"/>
<path d="M67.74,454.64C68.74,448.64 73.74,446.64 80.74,444.14C85.74,446.64 90.74,448.64 93.74,454.64L80.74,455.14Z" fill="#efefef" opacity="0.95" filter="url(#semb3)"/>
<ellipse cx="157.95" cy="404.89" rx="10" ry="10" fill="#666" opacity="0.55" filter="url(#semb2)"/>
<ellipse cx="165.95" cy="390.89" rx="9" ry="9" fill="#666" opacity="0.4" filter="url(#semb2)"/>
<ellipse cx="173.95" cy="376.89" rx="7" ry="7" fill="#666" opacity="0.25" filter="url(#semb2)"/>
<path d="M131.95,453.89L134.95,438.89C137.95,422.89 142.95,409.89 152.95,407.89C162.95,407.89 166.95,422.89 168.95,438.89L170.95,453.89Z" fill="#5e5e5e" opacity="0.85" filter="url(#semb2)"/>
<ellipse cx="150.95" cy="442.89" rx="11" ry="2" fill="#404040" opacity="0.35" filter="url(#semb3)"/>
<ellipse cx="151.75" cy="434.89" rx="10" ry="2" fill="#404040" opacity="0.35" filter="url(#semb3)"/>
<ellipse cx="152.55" cy="426.89" rx="8.5" ry="2" fill="#404040" opacity="0.35" filter="url(#semb3)"/>
<ellipse cx="153.35" cy="418.89" rx="6.5" ry="2" fill="#404040" opacity="0.35" filter="url(#semb3)"/>
<path d="M169.95,454.89C168.95,440.89 165.95,428.89 160.95,418.89" fill="none" stroke="#909090" stroke-width="1.5" opacity="0.6" filter="url(#semb3)"/>
<path d="M131.95,454.89C132.95,444.89 134.95,436.89 138.95,428.89" fill="none" stroke="#909090" stroke-width="1.3" opacity="0.5" filter="url(#semb3)"/>
<path d="M136.95,455.89C137.95,449.89 142.95,447.89 149.95,445.39C154.95,447.89 159.95,449.89 162.95,455.89L149.95,456.39Z" fill="#efefef" opacity="0.95" filter="url(#semb3)"/>
<ellipse cx="226.91" cy="406.15" rx="10" ry="10" fill="#666" opacity="0.55" filter="url(#semb2)"/>
<ellipse cx="234.91" cy="392.15" rx="9" ry="9" fill="#666" opacity="0.4" filter="url(#semb2)"/>
<ellipse cx="242.91" cy="378.15" rx="7" ry="7" fill="#666" opacity="0.25" filter="url(#semb2)"/>
<path d="M200.91,455.15L203.91,440.15C206.91,424.15 211.91,411.15 221.91,409.15C231.91,409.15 235.91,424.15 237.91,440.15L239.91,455.15Z" fill="#5e5e5e" opacity="0.85" filter="url(#semb2)"/>
<ellipse cx="219.91" cy="444.15" rx="11" ry="2" fill="#404040" opacity="0.35" filter="url(#semb3)"/>
<ellipse cx="220.71" cy="436.15" rx="10" ry="2" fill="#404040" opacity="0.35" filter="url(#semb3)"/>
<ellipse cx="221.51" cy="428.15" rx="8.5" ry="2" fill="#404040" opacity="0.35" filter="url(#semb3)"/>
<ellipse cx="222.31" cy="420.15" rx="6.5" ry="2" fill="#404040" opacity="0.35" filter="url(#semb3)"/>
<path d="M238.91,456.15C237.91,442.15 234.91,430.15 229.91,420.15" fill="none" stroke="#909090" stroke-width="1.5" opacity="0.6" filter="url(#semb3)"/>
<path d="M200.91,456.15C201.91,446.15 203.91,438.15 207.91,430.15" fill="none" stroke="#909090" stroke-width="1.3" opacity="0.5" filter="url(#semb3)"/>
<path d="M205.91,457.15C206.91,451.15 211.91,449.15 218.91,446.65C223.91,449.15 228.91,451.15 231.91,457.15L218.91,457.65Z" fill="#efefef" opacity="0.95" filter="url(#semb3)"/>
<ellipse cx="295.86" cy="407.15" rx="10" ry="10" fill="#666" opacity="0.55" filter="url(#semb2)"/>
<ellipse cx="303.86" cy="393.15" rx="9" ry="9" fill="#666" opacity="0.4" filter="url(#semb2)"/>
<ellipse cx="311.86" cy="379.15" rx="7" ry="7" fill="#666" opacity="0.25" filter="url(#semb2)"/>
<path d="M269.86,456.15L272.86,441.15C275.86,425.15 280.86,412.15 290.86,410.15C300.86,410.15 304.86,425.15 306.86,441.15L308.86,456.15Z" fill="#5e5e5e" opacity="0.85" filter="url(#semb2)"/>
<ellipse cx="288.86" cy="445.15" rx="11" ry="2" fill="#404040" opacity="0.35" filter="url(#semb3)"/>
<ellipse cx="289.66" cy="437.15" rx="10" ry="2" fill="#404040" opacity="0.35" filter="url(#semb3)"/>
<ellipse cx="290.46" cy="429.15" rx="8.5" ry="2" fill="#404040" opacity="0.35" filter="url(#semb3)"/>
<ellipse cx="291.26" cy="421.15" rx="6.5" ry="2" fill="#404040" opacity="0.35" filter="url(#semb3)"/>
<path d="M307.86,457.15C306.86,443.15 303.86,431.15 298.86,421.15" fill="none" stroke="#909090" stroke-width="1.5" opacity="0.6" filter="url(#semb3)"/>
<path d="M269.86,457.15C270.86,447.15 272.86,439.15 276.86,431.15" fill="none" stroke="#909090" stroke-width="1.3" opacity="0.5" filter="url(#semb3)"/>
<path d="M274.86,458.15C275.86,452.15 280.86,450.15 287.86,447.65C292.86,450.15 297.86,452.15 300.86,458.15L287.86,458.65Z" fill="#efefef" opacity="0.95" filter="url(#semb3)"/>
<ellipse cx="364.07" cy="408.15" rx="10" ry="10" fill="#666" opacity="0.55" filter="url(#semb2)"/>
<ellipse cx="372.07" cy="394.15" rx="9" ry="9" fill="#666" opacity="0.4" filter="url(#semb2)"/>
<ellipse cx="380.07" cy="380.15" rx="7" ry="7" fill="#666" opacity="0.25" filter="url(#semb2)"/>
<path d="M338.07,457.15L341.07,442.15C344.07,426.15 349.07,413.15 359.07,411.15C369.07,411.15 373.07,426.15 375.07,442.15L377.07,457.15Z" fill="#5e5e5e" opacity="0.85" filter="url(#semb2)"/>
<ellipse cx="357.07" cy="446.15" rx="11" ry="2" fill="#404040" opacity="0.35" filter="url(#semb3)"/>
<ellipse cx="357.87" cy="438.15" rx="10" ry="2" fill="#404040" opacity="0.35" filter="url(#semb3)"/>
<ellipse cx="358.67" cy="430.15" rx="8.5" ry="2" fill="#404040" opacity="0.35" filter="url(#semb3)"/>
<ellipse cx="359.47" cy="422.15" rx="6.5" ry="2" fill="#404040" opacity="0.35" filter="url(#semb3)"/>
<path d="M376.07,458.15C375.07,444.15 372.07,432.15 367.07,422.15" fill="none" stroke="#909090" stroke-width="1.5" opacity="0.6" filter="url(#semb3)"/>
<path d="M338.07,458.15C339.07,448.15 341.07,440.15 345.07,432.15" fill="none" stroke="#909090" stroke-width="1.3" opacity="0.5" filter="url(#semb3)"/>
<path d="M343.07,459.15C344.07,453.15 349.07,451.15 356.07,448.65C361.07,451.15 366.07,453.15 369.07,459.15L356.07,459.65Z" fill="#efefef" opacity="0.95" filter="url(#semb3)"/>
<ellipse cx="432.27" cy="409.16" rx="10" ry="10" fill="#666" opacity="0.55" filter="url(#semb2)"/>
<ellipse cx="440.27" cy="395.16" rx="9" ry="9" fill="#666" opacity="0.4" filter="url(#semb2)"/>
<ellipse cx="448.27" cy="381.16" rx="7" ry="7" fill="#666" opacity="0.25" filter="url(#semb2)"/>
<path d="M406.27,458.16L409.27,443.16C412.27,427.16 417.27,414.16 427.27,412.16C437.27,412.16 441.27,427.16 443.27,443.16L445.27,458.16Z" fill="#5e5e5e" opacity="0.85" filter="url(#semb2)"/>
<ellipse cx="425.27" cy="447.16" rx="11" ry="2" fill="#404040" opacity="0.35" filter="url(#semb3)"/>
<ellipse cx="426.07" cy="439.16" rx="10" ry="2" fill="#404040" opacity="0.35" filter="url(#semb3)"/>
<ellipse cx="426.87" cy="431.16" rx="8.5" ry="2" fill="#404040" opacity="0.35" filter="url(#semb3)"/>
<ellipse cx="427.67" cy="423.16" rx="6.5" ry="2" fill="#404040" opacity="0.35" filter="url(#semb3)"/>
<path d="M444.27,459.16C443.27,445.16 440.27,433.16 435.27,423.16" fill="none" stroke="#909090" stroke-width="1.5" opacity="0.6" filter="url(#semb3)"/>
<path d="M406.27,459.16C407.27,449.16 409.27,441.16 413.27,433.16" fill="none" stroke="#909090" stroke-width="1.3" opacity="0.5" filter="url(#semb3)"/>
<path d="M411.27,460.16C412.27,454.16 417.27,452.16 424.27,449.66C429.27,452.16 434.27,454.16 437.27,460.16L424.27,460.66Z" fill="#efefef" opacity="0.95" filter="url(#semb3)"/>
<ellipse cx="297.5" cy="367" rx="8" ry="7.5" fill="#6a6a6a" opacity="0.9" filter="url(#semb4)"/>
<rect x="40.1" y="254.6" width="438.3" height="270" filter="url(#semnoise)" opacity="0.16"/>
<rect x="40.1" y="254.6" width="438.3" height="270" filter="url(#semnoise2)" opacity="0.14"/>
<rect x="63.44" y="502.04" width="69.46" height="5.77" fill="#fff"/>
</g></g>
<g>
<rect x="144.04" y="23.06" width="251.79" height="191.27" fill="#9AA5AA"/>
<rect x="268.32" y="86.25" width="68.11" height="61.65" fill="#CDEBF2"/>
<rect x="279.28" y="54.94" width="14.75" height="31.6" fill="#CDEBF2"/>
<rect x="310.73" y="54.94" width="14.46" height="31.6" fill="#CDEBF2"/>
<polygon points="294.02,85.97 302.45,95.94 310.73,85.97" fill="#9AA5AA"/>
<rect x="245.85" y="106.48" width="22.47" height="25.42" fill="#CDEBF2"/>
<rect x="336.43" y="106.48" width="22.75" height="25.42" fill="#CDEBF2"/>
<rect x="290.09" y="147.9" width="23.87" height="35.95" fill="#CDEBF2"/>
<rect x="144.04" y="47.21" width="46.06" height="28.79" fill="#D9C878"/>
<rect x="144.04" y="104.09" width="46.06" height="29.07" fill="#D9C878"/>
<rect x="144.04" y="161.38" width="46.06" height="28.65" fill="#D9C878"/>
<polyline points="190.1,50.02 219.88,50.02 219.88,37.66" fill="none" stroke="#D9C878" stroke-width="1.83" stroke-linejoin="miter"/>
<polyline points="219.03,37.66 338.4,37.66 338.4,97.77 335.31,97.77" fill="none" stroke="#D9C878" stroke-width="2.39" stroke-linejoin="miter"/>
<polyline points="190.1,107.88 227.88,107.88" fill="none" stroke="#D9C878" stroke-width="1.83" stroke-linejoin="miter"/>
<polyline points="227.88,108.72 227.88,46.23 302.45,46.23" fill="none" stroke="#D9C878" stroke-width="2.39" stroke-linejoin="miter"/>
<polyline points="302.45,45.11 302.45,112.51" fill="none" stroke="#D9C878" stroke-width="1.26" stroke-linejoin="miter"/>
<polyline points="190.1,166.86 237.43,166.86" fill="none" stroke="#D9C878" stroke-width="1.83" stroke-linejoin="miter"/>
<polyline points="237.43,167.7 237.43,51.71 296.83,51.71 296.83,71.37 288.97,71.37" fill="none" stroke="#D9C878" stroke-width="2.39" stroke-linejoin="miter"/>
<polyline points="271.69,87.94 271.69,145.09 333.76,145.09 333.76,87.94" fill="none" stroke="#D9C878" stroke-width="2.81" stroke-linejoin="miter"/>
<rect x="286.16" y="112.09" width="32.44" height="11.37" fill="#E5A9A0"/>
<rect x="286.16" y="112.93" width="32.44" height="1.12" fill="#6F7F95"/>
<rect x="291.49" y="114.06" width="21.77" height="0.98" fill="#D9B95A"/>
<rect x="286.16" y="115.04" width="32.44" height="1.12" fill="#6F7F95"/>
<rect x="291.49" y="116.16" width="21.77" height="0.98" fill="#D9B95A"/>
<rect x="286.16" y="117.15" width="32.44" height="1.12" fill="#6F7F95"/>
<rect x="291.49" y="118.27" width="21.77" height="0.98" fill="#D9B95A"/>
<rect x="286.16" y="119.25" width="32.44" height="1.12" fill="#6F7F95"/>
<rect x="291.49" y="120.38" width="21.77" height="0.98" fill="#D9B95A"/>
<rect x="286.16" y="121.36" width="32.44" height="1.12" fill="#6F7F95"/>
<rect x="291.49" y="122.48" width="21.77" height="0.98" fill="#D9B95A"/>
<path d="M283.07,121.92L40.1,254.7M318.88,119.25L478.4,254.7" stroke="#FF8F45" stroke-width="1.9" stroke-dasharray="11.1 10.95" fill="none"/>
</g>
<text x="3.5" y="37.6" font-size="60" font-weight="bold" fill="#111">a</text>
<text x="575.5" y="42.4" font-size="60" font-weight="bold" fill="#111">b</text>
<text x="1104" y="37.5" font-size="60" font-weight="bold" fill="#111">c</text>
<text x="-2.5" y="645.5" font-size="60" font-weight="bold" fill="#111">d</text>
<text x="673" y="645" font-size="60" font-weight="bold" fill="#111">e</text>
<text x="1334.5" y="652.5" font-size="60" font-weight="bold" fill="#111">f</text>
<text x="3.5" y="1176.1" font-size="60" font-weight="bold" fill="#111">g</text>
</svg>
</body></html>
